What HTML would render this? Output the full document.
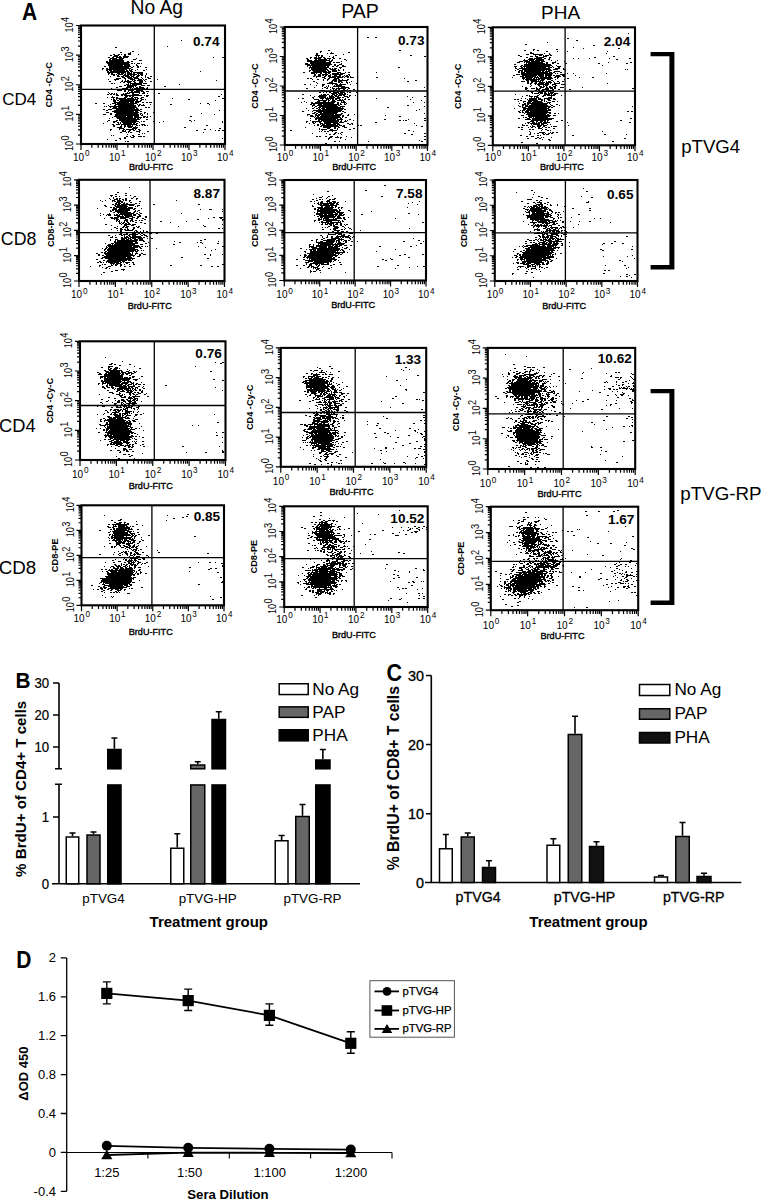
<!DOCTYPE html>
<html><head><meta charset="utf-8"><style>
html,body{margin:0;padding:0;background:#fff;width:761px;height:1200px;overflow:hidden}
svg{display:block}
text{font-family:"Liberation Sans", sans-serif;fill:#000}
</style></head><body>
<svg width="761" height="1200" viewBox="0 0 761 1200">
<path d="M181 40.5h1m-15 6h1m-53 1h2m15 4h2m-14 1h2m8 0h1m-3 1h3m-18 1h2m3 0h2m1 0h1m2 0h2m2 0h3m7 0h1m-29 1h2m2 0h5m5 0h2m-13 1h5m1 0h2m2 0h6m-21 1h2m2 0h2m2 0h6m1 0h5m85 0h1m8 0h2m-114 1h7m2 0h5m12 0h1m-28 1h2m1 0h11m10 0h3m-27 1h15m15 0h3m-36 1h2m1 0h15m3 0h2m2 0h2m-27 1h24m-23 1h22m2 0h2m1 0h1m2 0h3m1 0h1m-34 1h22m6 0h1m-29 1h15m1 0h6m6 0h2m-34 1h2m3 0h22m2 0h1m3 0h2m1 0h1m-32 1h20m2 0h2m4 0h2m6 0h2m-45 1h2m2 0h2m1 0h22m-29 1h1m3 0h21m2 0h1m1 0h2m4 0h1m8 0h1m-41 1h2m1 0h3m1 0h12m1 0h2m1 0h3m3 0h1m7 0h2m-38 1h2m1 0h19m1 0h3m67 0h1m-94 1h19m1 0h3m1 0h1m1 0h10m-35 1h2m1 0h2m4 0h3m1 0h3m1 0h1m1 0h5m1 0h2m2 0h6m3 0h1m-39 1h1m2 0h4m1 0h1m1 0h5m1 0h2m1 0h10m1 0h1m1 0h3m3 0h1m-34 1h2m2 0h2m4 0h6m1 0h2m1 0h2m2 0h3m1 0h2m2 0h1m-36 1h1m6 0h3m1 0h3m1 0h5m1 0h3m2 0h3m6 0h1m4 0h2m-30 1h3m2 0h5m1 0h5m3 0h1m3 0h1m1 0h2m-33 1h5m3 0h2m2 0h5m1 0h5m3 0h1m5 0h3m-43 1h1m5 0h5m6 0h1m4 0h5m3 0h4m1 0h1m1 0h2m10 0h1m-43 1h1m6 0h1m2 0h1m1 0h2m3 0h1m1 0h2m1 0h6m1 0h1m71 0h1m-108 1h2m10 0h2m1 0h8m1 0h2m4 0h4m2 0h1m4 0h2m-32 1h1m2 0h2m2 0h4m3 0h2m3 0h4m-32 1h2m1 0h1m13 0h1m1 0h12m1 0h4m-21 1h3m1 0h1m1 0h10m37 0h1m-56 1h2m1 0h10m4 0h4m2 0h3m-31 1h3m5 0h7m1 0h1m3 0h2m23 0h2m-50 1h2m8 0h6m1 0h1m2 0h2m1 0h5m3 0h1m-37 1h1m10 0h6m2 0h1m1 0h1m1 0h11m1 0h2m-36 1h2m1 0h2m5 0h3m4 0h4m3 0h4m7 0h2m-32 1h5m2 0h2m2 0h6m2 0h7m-19 1h2m2 0h1m2 0h2m1 0h6m1 0h3m2 0h3m-41 1h1m18 0h1m1 0h11m3 0h2m-36 1h1m1 0h2m1 0h1m1 0h1m6 0h1m1 0h5m2 0h2m5 0h1m2 0h3m2 0h1m10 0h2m-53 1h2m1 0h2m1 0h2m1 0h2m3 0h6m5 0h7m82 0h1m-106 1h3m2 0h2m1 0h18m2 0h1m1 0h3m-37 1h1m12 0h3m1 0h2m1 0h2m12 0h2m70 0h2m-113 1h1m3 0h4m1 0h2m6 0h3m4 0h2m1 0h4m3 0h3m-31 1h1m2 0h10m1 0h7m1 0h1m1 0h2m1 0h2m30 0h1m49 0h2m-113 1h1m1 0h2m1 0h1m2 0h19m3 0h3m1 0h1m42 0h2m-77 1h3m1 0h2m1 0h15m1 0h2m2 0h2m73 0h1m-103 1h3m3 0h15m1 0h6m-27 1h15m1 0h4m1 0h4m3 0h2m2 0h2m1 0h3m-57 1h2m6 0h2m7 0h4m1 0h20m17 0h1m45 0h1m6 0h2m-99 1h1m4 0h19m3 0h1m1 0h2m2 0h1m6 0h1m19 0h2m37 0h1m-102 1h1m5 0h2m2 0h18m2 0h2m1 0h4m-41 1h1m1 0h1m2 0h27m2 0h1m-29 1h1m2 0h4m1 0h19m8 0h2m1 0h2m-38 1h23m1 0h2m-35 1h2m3 0h4m4 0h23m1 0h2m12 0h1m-49 1h2m6 0h26m79 0h1m-108 1h22m1 0h3m2 0h2m-36 1h3m5 0h25m5 0h2m7 0h2m-45 1h2m4 0h22m2 0h2m2 0h1m2 0h1m53 0h1m-99 1h3m4 0h2m3 0h24m1 0h1m1 0h1m4 0h1m66 0h1m-100 1h24m2 0h2m-29 1h12m1 0h6m1 0h5m4 0h3m1 0h1m2 0h1m39 0h2m-80 1h1m3 0h17m1 0h8m1 0h2m1 0h2m-39 1h1m7 0h19m1 0h2m1 0h1m-22 1h21m6 0h2m-40 1h2m6 0h2m1 0h18m52 0h2m3 0h1m-88 1h1m5 0h4m4 0h18m2 0h1m1 0h2m8 0h2m8 0h1m27 0h1m30 0h1m-110 1h2m2 0h2m1 0h1m1 0h14m3 0h1m19 0h1m62 0h1m-120 1h1m14 0h1m1 0h1m2 0h9m1 0h2m1 0h2m-26 1h2m2 0h4m1 0h16m4 0h4m-32 1h2m6 0h1m2 0h2m1 0h4m1 0h1m3 0h2m1 0h1m2 0h1m1 0h2m1 0h1m58 0h2m-95 1h2m5 0h2m2 0h2m1 0h6m2 0h1m-19 1h5m2 0h1m3 0h4m1 0h5m46 0h2m-67 1h5m8 0h5m82 0h2m-111 1h2m7 0h1m3 0h2m1 0h8m1 0h1m2 0h2m64 0h2m4 0h1m-101 1h1m11 0h2m1 0h1m3 0h2m2 0h2m4 0h2m55 0h2m17 0h1m2 0h2m2 0h2m-102 1h4m2 0h2m6 0h4m7 0h2m-29 1h2m4 0h1m1 0h1m1 0h2m7 0h1m63 0h1m-62 1h1m1 0h1m-18 1h1m10 0h2m-29 1h1m1 0h1m18 0h2m-8 1h2m2 0h1m2 0h2m3 0h4m1 0h2m-21 1h2m5 0h3m-15 1h2m3 0h2m96 0h1m-116 1h1m12 0h1m-6 1h2m8 1h1m1 0h2" stroke="#000" stroke-width="1" fill="none" shape-rendering="crispEdges"/>
<rect x="81" y="25.5" width="144" height="118.5" fill="none" stroke="#000" stroke-width="2.1"/>
<path d="M154.3 25.5V144M81 89.4H225" stroke="#000" stroke-width="1.3"/>
<path d="M81 144v6M91.84 144v3.8M98.18 144v3.8M102.67 144v3.8M106.16 144v3.8M109.01 144v3.8M111.42 144v3.8M113.51 144v3.8M115.35 144v3.8M117 144v6M127.84 144v3.8M134.18 144v3.8M138.67 144v3.8M142.16 144v3.8M145.01 144v3.8M147.42 144v3.8M149.51 144v3.8M151.35 144v3.8M153 144v6M163.84 144v3.8M170.18 144v3.8M174.67 144v3.8M178.16 144v3.8M181.01 144v3.8M183.42 144v3.8M185.51 144v3.8M187.35 144v3.8M189 144v6M199.84 144v3.8M206.18 144v3.8M210.67 144v3.8M214.16 144v3.8M217.01 144v3.8M219.42 144v3.8M221.51 144v3.8M223.35 144v3.8M225 144v6M81 144h-5M81 135.08h-3M81 129.87h-3M81 126.16h-3M81 123.29h-3M81 120.95h-3M81 118.96h-3M81 117.25h-3M81 115.73h-3M81 114.38h-5M81 105.46h-3M81 100.24h-3M81 96.54h-3M81 93.67h-3M81 91.32h-3M81 89.34h-3M81 87.62h-3M81 86.11h-3M81 84.75h-5M81 75.83h-3M81 70.62h-3M81 66.91h-3M81 64.04h-3M81 61.7h-3M81 59.71h-3M81 58h-3M81 56.48h-3M81 55.12h-5M81 46.21h-3M81 40.99h-3M81 37.29h-3M81 34.42h-3M81 32.07h-3M81 30.09h-3M81 28.37h-3M81 26.86h-3M81 25.5h-5" stroke="#000" stroke-width="1.2"/>
<text x="219.5" y="46" font-size="13.6" text-anchor="end" font-weight="bold">0.74</text>
<text x="81.3" y="160.7" font-size="10" text-anchor="middle">10<tspan dx="0.8" dy="-4.9" font-size="8.2">0</tspan></text>
<text x="117.3" y="160.7" font-size="10" text-anchor="middle">10<tspan dx="0.8" dy="-4.9" font-size="8.2">1</tspan></text>
<text x="153.3" y="160.7" font-size="10" text-anchor="middle">10<tspan dx="0.8" dy="-4.9" font-size="8.2">2</tspan></text>
<text x="189.3" y="160.7" font-size="10" text-anchor="middle">10<tspan dx="0.8" dy="-4.9" font-size="8.2">3</tspan></text>
<text x="225.3" y="160.7" font-size="10" text-anchor="middle">10<tspan dx="0.8" dy="-4.9" font-size="8.2">4</tspan></text>
<text x="151" y="169.7" font-size="9.1" text-anchor="middle" stroke="#000" stroke-width="0.35">BrdU-FITC</text>
<text transform="translate(73.1 143.2) rotate(-90) scale(0.85 1)" font-size="10.8" text-anchor="middle">10<tspan dx="0.5" dy="-3.9">0</tspan></text>
<text transform="translate(73.1 113.58) rotate(-90) scale(0.85 1)" font-size="10.8" text-anchor="middle">10<tspan dx="0.5" dy="-3.9">1</tspan></text>
<text transform="translate(73.1 83.95) rotate(-90) scale(0.85 1)" font-size="10.8" text-anchor="middle">10<tspan dx="0.5" dy="-3.9">2</tspan></text>
<text transform="translate(73.1 54.33) rotate(-90) scale(0.85 1)" font-size="10.8" text-anchor="middle">10<tspan dx="0.5" dy="-3.9">3</tspan></text>
<text transform="translate(73.1 24.7) rotate(-90) scale(0.85 1)" font-size="10.8" text-anchor="middle">10<tspan dx="0.5" dy="-3.9">4</tspan></text>
<text transform="translate(52.3 84.75) rotate(-90)" font-size="9.2" font-weight="bold" text-anchor="middle">CD4 -Cy-C</text>
<path d="M367 37.5h2m6 0h2m-49 13h2m69 0h2m-81 1h2m-2 1h1m10 0h1m16 0h2m-34 1h2m9 0h1m2 0h4m-18 1h2m25 0h1m-29 1h5m1 0h2m12 0h2m73 0h2m-96 1h1m1 0h1m2 0h2m6 0h1m3 0h1m90 0h2m-116 1h2m2 0h3m1 0h4m1 0h2m7 0h2m-28 1h2m2 0h1m3 0h7m3 0h2m1 0h4m2 0h2m4 0h2m-34 1h2m6 0h2m1 0h9m2 0h1m2 0h1m11 0h2m-39 1h5m2 0h16m1 0h2m13 0h1m-40 1h19m3 0h3m9 0h1m-32 1h21m2 0h2m1 0h4m-35 1h3m2 0h21m10 0h1m-37 1h5m1 0h21m2 0h2m3 0h3m-35 1h23m4 0h2m1 0h2m3 0h2m-37 1h1m2 0h1m1 0h14m1 0h2m3 0h2m2 0h2m4 0h4m-37 1h20m10 0h3m56 0h2m-91 1h1m1 0h16m2 0h2m1 0h1m1 0h3m3 0h1m-30 1h17m2 0h6m2 0h1m4 0h1m-35 1h2m1 0h14m1 0h2m3 0h5m1 0h2m3 0h1m-35 1h1m3 0h14m1 0h3m1 0h5m-34 1h2m6 0h11m1 0h8m6 0h4m4 0h1m2 0h2m26 0h1m-66 1h4m1 0h1m3 0h2m3 0h2m1 0h2m2 0h7m1 0h5m-31 1h2m2 0h3m1 0h6m2 0h1m1 0h11m5 0h2m-36 1h2m2 0h3m1 0h2m1 0h2m1 0h3m3 0h3m2 0h2m3 0h1m1 0h2m1 0h1m-37 1h2m1 0h5m3 0h2m2 0h3m1 0h9m1 0h2m1 0h4m1 0h1m-35 1h1m5 0h3m4 0h7m1 0h6m1 0h1m2 0h2m1 0h4m22 0h2m-71 1h2m1 0h2m12 0h2m2 0h2m4 0h5m65 0h1m-93 1h1m4 0h2m4 0h1m3 0h2m4 0h4m1 0h2m2 0h1m4 0h2m-26 1h1m3 0h1m4 0h5m1 0h10m67 0h2m-104 1h2m16 0h2m1 0h3m1 0h4m4 0h1m4 0h1m55 0h2m-93 1h1m12 0h4m5 0h2m1 0h2m3 0h2m1 0h1m-33 1h1m9 0h10m3 0h1m6 0h1m8 0h2m-54 1h2m4 0h1m11 0h3m7 0h1m2 0h3m1 0h7m4 0h1m-35 1h1m5 0h2m4 0h1m5 0h1m1 0h6m-20 1h1m3 0h1m1 0h1m4 0h12m-31 1h1m9 0h2m1 0h1m2 0h1m1 0h1m5 0h1m2 0h8m75 0h1m-119 1h2m14 0h1m3 0h2m4 0h3m1 0h10m2 0h2m-20 1h1m2 0h1m1 0h2m1 0h2m3 0h2m2 0h1m5 0h2m-35 1h5m8 0h4m4 0h6m2 0h2m-27 1h11m2 0h6m5 0h1m-30 1h2m2 0h1m2 0h1m2 0h2m2 0h6m1 0h5m2 0h1m1 0h2m5 0h1m-26 1h6m1 0h5m1 0h2m-44 1h2m17 0h1m1 0h3m1 0h2m3 0h3m1 0h2m1 0h7m1 0h1m-38 1h1m8 0h8m2 0h1m1 0h2m1 0h3m1 0h4m1 0h2m4 0h2m4 0h1m-42 1h1m3 0h8m3 0h5m1 0h4m5 0h4m1 0h1m57 0h1m16 0h2m-114 1h2m5 0h7m1 0h1m1 0h6m2 0h4m1 0h2m3 0h2m63 0h1m-115 1h1m3 0h2m9 0h1m6 0h4m1 0h9m1 0h5m5 0h1m30 0h1m-63 1h5m3 0h1m3 0h3m1 0h1m1 0h2m1 0h2m2 0h2m1 0h1m1 0h2m2 0h2m60 0h1m-93 1h9m1 0h2m2 0h3m2 0h7m77 0h1m-118 1h1m12 0h3m3 0h3m2 0h1m2 0h5m5 0h1m1 0h2m-44 1h1m4 0h1m4 0h2m2 0h20m2 0h2m2 0h5m67 0h1m10 0h1m-114 1h23m3 0h2m1 0h1m3 0h1m1 0h1m-37 1h2m1 0h2m3 0h4m1 0h16m1 0h2m2 0h2m-34 1h3m2 0h20m1 0h2m67 0h2m-97 1h1m2 0h2m2 0h19m2 0h5m79 0h1m-111 1h1m3 0h3m1 0h19m1 0h1m44 0h2m-83 1h1m5 0h2m2 0h2m1 0h1m1 0h4m1 0h18m-26 1h3m1 0h21m1 0h2m73 0h1m-112 1h1m4 0h29m74 0h1m-115 1h2m8 0h1m3 0h25m1 0h2m-30 1h2m2 0h4m1 0h15m6 0h2m-34 1h3m1 0h2m2 0h17m4 0h2m81 0h1m-118 1h3m5 0h2m1 0h16m1 0h7m6 0h1m5 0h1m-48 1h1m2 0h3m2 0h5m1 0h20m1 0h2m3 0h2m36 0h1m-76 1h4m1 0h1m1 0h2m1 0h20m2 0h2m55 0h2m-87 1h1m1 0h25m1 0h1m2 0h2m-37 1h1m4 0h23m2 0h2m82 0h2m-111 1h2m1 0h18m1 0h6m6 0h2m33 0h2m22 0h1m-99 1h1m7 0h2m1 0h18m2 0h1m3 0h1m1 0h1m5 0h1m45 0h2m2 0h1m1 0h2m17 0h2m-120 1h2m4 0h10m1 0h16m1 0h2m2 0h3m-41 1h1m5 0h2m1 0h1m3 0h2m3 0h14m1 0h5m31 0h2m-68 1h1m3 0h2m5 0h3m1 0h7m2 0h6m8 0h2m2 0h2m61 0h1m-98 1h2m1 0h1m1 0h3m1 0h10m1 0h3m9 0h2m1 0h1m-39 1h1m2 0h2m2 0h17m1 0h3m1 0h2m12 0h2m1 0h2m54 0h1m-97 1h2m1 0h16m3 0h3m76 0h2m-118 1h1m17 0h8m3 0h2m2 0h2m4 0h3m-28 1h1m7 0h3m4 0h2m1 0h1m15 0h2m-36 1h1m1 0h6m3 0h3m4 0h1m11 0h2m-61 1h2m30 0h1m6 0h8m71 0h2m-91 1h1m1 0h1m2 0h2m1 0h2m3 0h1m80 0h1m-79 1h2m4 0h2m-31 1h1m13 0h1m7 0h2m2 0h1m1 0h1m63 0h2m18 0h2m-97 1h2m2 0h2m6 0h1m69 0h2m-97 2h2m1 0h2m4 0h2m3 0h3m4 0h1m8 0h1m77 0h2m-97 1h3m3 0h4m1 0h2m9 0h1m-24 1h2m10 0h1m-13 1h1m16 0h1m78 0h2m-7 1h1m-86 1h2m3 0h1m28 0h1m52 0h2m-98 2h2" stroke="#000" stroke-width="1" fill="none" shape-rendering="crispEdges"/>
<rect x="284.8" y="27" width="142.7" height="118" fill="none" stroke="#000" stroke-width="2.1"/>
<path d="M357.6 27V145M284.8 91H427.5" stroke="#000" stroke-width="1.3"/>
<path d="M284.8 145v6M295.54 145v3.8M301.82 145v3.8M306.28 145v3.8M309.74 145v3.8M312.56 145v3.8M314.95 145v3.8M317.02 145v3.8M318.84 145v3.8M320.48 145v6M331.21 145v3.8M337.5 145v3.8M341.95 145v3.8M345.41 145v3.8M348.24 145v3.8M350.62 145v3.8M352.69 145v3.8M354.52 145v3.8M356.15 145v6M366.89 145v3.8M373.17 145v3.8M377.63 145v3.8M381.09 145v3.8M383.91 145v3.8M386.3 145v3.8M388.37 145v3.8M390.19 145v3.8M391.82 145v6M402.56 145v3.8M408.85 145v3.8M413.3 145v3.8M416.76 145v3.8M419.59 145v3.8M421.97 145v3.8M424.04 145v3.8M425.87 145v3.8M427.5 145v6M284.8 145h-5M284.8 136.12h-3M284.8 130.92h-3M284.8 127.24h-3M284.8 124.38h-3M284.8 122.04h-3M284.8 120.07h-3M284.8 118.36h-3M284.8 116.85h-3M284.8 115.5h-5M284.8 106.62h-3M284.8 101.42h-3M284.8 97.74h-3M284.8 94.88h-3M284.8 92.54h-3M284.8 90.57h-3M284.8 88.86h-3M284.8 87.35h-3M284.8 86h-5M284.8 77.12h-3M284.8 71.92h-3M284.8 68.24h-3M284.8 65.38h-3M284.8 63.04h-3M284.8 61.07h-3M284.8 59.36h-3M284.8 57.85h-3M284.8 56.5h-5M284.8 47.62h-3M284.8 42.42h-3M284.8 38.74h-3M284.8 35.88h-3M284.8 33.54h-3M284.8 31.57h-3M284.8 29.86h-3M284.8 28.35h-3M284.8 27h-5" stroke="#000" stroke-width="1.2"/>
<text x="424.5" y="45" font-size="13.6" text-anchor="end" font-weight="bold">0.73</text>
<text x="285.1" y="160.9" font-size="10" text-anchor="middle">10<tspan dx="0.8" dy="-4.9" font-size="8.2">0</tspan></text>
<text x="320.78" y="160.9" font-size="10" text-anchor="middle">10<tspan dx="0.8" dy="-4.9" font-size="8.2">1</tspan></text>
<text x="356.45" y="160.9" font-size="10" text-anchor="middle">10<tspan dx="0.8" dy="-4.9" font-size="8.2">2</tspan></text>
<text x="392.12" y="160.9" font-size="10" text-anchor="middle">10<tspan dx="0.8" dy="-4.9" font-size="8.2">3</tspan></text>
<text x="427.8" y="160.9" font-size="10" text-anchor="middle">10<tspan dx="0.8" dy="-4.9" font-size="8.2">4</tspan></text>
<text x="354.15" y="170" font-size="9.1" text-anchor="middle" stroke="#000" stroke-width="0.35">BrdU-FITC</text>
<text transform="translate(276.9 144.2) rotate(-90) scale(0.85 1)" font-size="10.8" text-anchor="middle">10<tspan dx="0.5" dy="-3.9">0</tspan></text>
<text transform="translate(276.9 114.7) rotate(-90) scale(0.85 1)" font-size="10.8" text-anchor="middle">10<tspan dx="0.5" dy="-3.9">1</tspan></text>
<text transform="translate(276.9 85.2) rotate(-90) scale(0.85 1)" font-size="10.8" text-anchor="middle">10<tspan dx="0.5" dy="-3.9">2</tspan></text>
<text transform="translate(276.9 55.7) rotate(-90) scale(0.85 1)" font-size="10.8" text-anchor="middle">10<tspan dx="0.5" dy="-3.9">3</tspan></text>
<text transform="translate(276.9 26.2) rotate(-90) scale(0.85 1)" font-size="10.8" text-anchor="middle">10<tspan dx="0.5" dy="-3.9">4</tspan></text>
<text transform="translate(258.2 86) rotate(-90)" font-size="9.2" font-weight="bold" text-anchor="middle">CD4 -Cy-C</text>
<path d="M628 33.5h1m-62 5h2m7 2h2m-31 2h1m-23 2h2m66 1h2m-22 2h1m9 1h1m34 0h2m-87 1h2m21 0h2m-34 1h2m7 0h1m3 0h2m7 1h2m9 0h1m9 0h1m39 0h1m-78 1h2m-2 1h4m10 0h1m4 0h1m56 0h1m-81 1h3m4 0h10m6 0h2m-33 1h2m15 0h1m3 0h3m1 0h1m1 0h4m1 0h2m-32 1h2m8 0h3m2 0h3m5 0h4m66 0h2m-89 1h2m8 0h8m5 0h2m43 0h2m-67 1h4m1 0h8m2 0h2m3 0h1m23 0h1m4 0h1m10 0h1m19 0h1m19 0h2m-107 1h1m3 0h7m1 0h8m4 0h2m66 0h2m-95 1h5m1 0h5m1 0h9m7 0h1m5 0h1m-39 1h4m1 0h6m1 0h9m1 0h4m10 0h1m8 0h1m-48 1h3m4 0h1m1 0h17m3 0h2m4 0h4m52 0h1m21 0h2m-106 1h1m1 0h17m1 0h2m4 0h2m3 0h2m6 0h2m31 0h2m26 0h2m-114 1h2m8 0h27m-30 1h2m1 0h28m4 0h1m45 0h1m-89 1h3m3 0h2m1 0h27m2 0h1m4 0h4m-46 1h1m5 0h2m1 0h1m1 0h20m2 0h4m1 0h1m4 0h2m-45 1h2m2 0h31m5 0h5m3 0h1m-47 1h2m3 0h29m2 0h5m5 0h2m60 0h1m1 0h1m-113 1h1m3 0h4m1 0h21m1 0h1m1 0h4m13 0h1m-48 1h2m1 0h2m1 0h17m1 0h2m1 0h5m4 0h6m-42 1h2m1 0h4m1 0h22m1 0h3m1 0h2m5 0h2m-41 1h32m2 0h1m1 0h1m9 0h1m5 0h1m32 0h1m-91 1h4m1 0h23m1 0h7m8 0h5m-52 1h2m7 0h15m1 0h6m1 0h7m1 0h2m1 0h4m2 0h3m10 0h1m-56 1h4m1 0h11m1 0h1m1 0h5m1 0h2m1 0h3m4 0h6m2 0h2m-53 1h1m9 0h11m1 0h5m1 0h12m2 0h2m1 0h2m20 0h1m12 0h2m-72 1h3m1 0h6m1 0h2m1 0h1m1 0h15m4 0h1m9 0h2m-46 1h1m1 0h15m1 0h4m2 0h4m4 0h1m8 0h1m-39 1h3m1 0h7m1 0h1m1 0h4m7 0h2m-32 1h4m2 0h2m2 0h10m1 0h1m3 0h1m1 0h3m2 0h1m3 0h2m3 0h2m-37 1h2m2 0h2m2 0h2m2 0h6m1 0h6m2 0h1m4 0h1m-33 1h2m1 0h2m2 0h3m1 0h6m1 0h4m1 0h1m3 0h6m47 0h1m-78 1h1m4 0h1m1 0h12m3 0h4m5 0h4m-34 1h1m6 0h2m3 0h1m1 0h3m4 0h1m2 0h2m-35 1h1m7 0h1m8 0h3m1 0h2m1 0h1m2 0h2m2 0h3m-31 1h2m9 0h1m3 0h4m2 0h2m1 0h4m1 0h2m4 0h4m18 0h1m-58 1h3m3 0h4m1 0h2m1 0h2m4 0h4m1 0h3m1 0h2m76 0h2m-109 1h2m9 0h4m2 0h7m3 0h2m4 0h2m9 0h2m-44 1h2m6 0h2m1 0h2m1 0h3m2 0h8m-24 1h4m3 0h1m1 0h8m1 0h3m3 0h2m-25 1h2m5 0h5m1 0h2m2 0h1m1 0h4m-22 1h1m1 0h5m1 0h3m1 0h3m1 0h5m1 0h4m-43 1h1m23 0h1m4 0h6m1 0h1m1 0h3m-30 1h2m1 0h1m7 0h2m4 0h3m1 0h8m6 0h1m-40 1h1m6 0h4m1 0h4m4 0h2m7 0h1m-21 1h1m2 0h1m1 0h3m9 0h4m-31 1h1m3 0h1m3 0h8m1 0h3m3 0h8m1 0h2m-41 1h2m1 0h2m8 0h1m1 0h8m1 0h5m1 0h1m2 0h3m3 0h3m-36 1h2m6 0h10m3 0h2m1 0h1m3 0h3m-33 1h1m4 0h3m2 0h4m1 0h9m2 0h1m1 0h1m5 0h3m2 0h1m-35 1h1m3 0h4m1 0h11m4 0h4m-32 1h1m4 0h2m1 0h21m1 0h1m-28 1h4m1 0h2m2 0h16m3 0h1m5 0h2m-40 1h1m3 0h2m1 0h3m1 0h19m3 0h2m6 0h1m-41 1h2m1 0h1m2 0h26m2 0h2m77 0h1m-111 1h4m2 0h19m1 0h2m1 0h2m-39 1h1m8 0h26m-26 1h3m1 0h20m1 0h3m-31 1h1m1 0h3m1 0h25m-33 1h2m2 0h1m2 0h4m1 0h18m79 0h2m2 0h2m-114 1h2m1 0h2m1 0h26m-27 1h1m2 0h20m2 0h2m3 0h2m2 0h1m-33 1h20m1 0h2m-28 1h3m4 0h23m2 0h3m-28 1h22m-27 1h1m1 0h2m2 0h3m1 0h1m1 0h13m-30 1h2m7 0h3m2 0h22m76 0h2m-107 1h6m1 0h20m-21 1h15m1 0h2m12 0h2m57 0h2m-92 1h4m2 0h2m2 0h3m1 0h2m1 0h1m8 0h2m-31 1h3m2 0h3m1 0h1m1 0h4m1 0h7m17 0h1m61 0h2m-106 1h1m2 0h1m1 0h10m1 0h6m-25 1h1m8 0h1m1 0h7m1 0h3m3 0h1m2 0h1m-29 1h3m1 0h2m4 0h1m4 0h5m1 0h4m21 0h1m-39 1h1m1 0h3m2 0h4m2 0h2m6 0h1m1 0h4m-39 1h2m1 0h2m5 0h1m2 0h2m2 0h1m2 0h2m2 0h1m2 0h2m1 0h2m-12 1h4m11 0h2m-34 1h2m6 0h2m1 0h2m8 0h1m2 0h2m-6 1h1m5 0h2m1 0h1m-22 1h1m72 0h1m-73 1h1m8 0h6m5 0h1m1 0h2m2 0h2m-28 1h1m3 0h1m2 0h2m3 0h2m1 0h1m2 0h2m1 0h2m-24 1h2m12 0h2m1 0h3m55 0h2m20 0h1m-107 1h2m15 0h2m1 0h1m31 0h2m-48 1h2m3 0h3m3 1h2m2 0h1m1 0h1m7 0h1m-25 1h2m6 0h2m2 0h2m83 0h2m-84 1h1m5 0h2m-1 1h2m61 1h2m-93 1h2m13 1h2m11 1h1" stroke="#000" stroke-width="1" fill="none" shape-rendering="crispEdges"/>
<rect x="492.8" y="27.3" width="142.2" height="118" fill="none" stroke="#000" stroke-width="2.1"/>
<path d="M565.1 27.3V145.3M492.8 91.2H635" stroke="#000" stroke-width="1.3"/>
<path d="M492.8 145.3v6M503.5 145.3v3.8M509.76 145.3v3.8M514.2 145.3v3.8M517.65 145.3v3.8M520.46 145.3v3.8M522.84 145.3v3.8M524.9 145.3v3.8M526.72 145.3v3.8M528.35 145.3v6M539.05 145.3v3.8M545.31 145.3v3.8M549.75 145.3v3.8M553.2 145.3v3.8M556.01 145.3v3.8M558.39 145.3v3.8M560.45 145.3v3.8M562.27 145.3v3.8M563.9 145.3v6M574.6 145.3v3.8M580.86 145.3v3.8M585.3 145.3v3.8M588.75 145.3v3.8M591.56 145.3v3.8M593.94 145.3v3.8M596 145.3v3.8M597.82 145.3v3.8M599.45 145.3v6M610.15 145.3v3.8M616.41 145.3v3.8M620.85 145.3v3.8M624.3 145.3v3.8M627.11 145.3v3.8M629.49 145.3v3.8M631.55 145.3v3.8M633.37 145.3v3.8M635 145.3v6M492.8 145.3h-5M492.8 136.42h-3M492.8 131.22h-3M492.8 127.54h-3M492.8 124.68h-3M492.8 122.34h-3M492.8 120.37h-3M492.8 118.66h-3M492.8 117.15h-3M492.8 115.8h-5M492.8 106.92h-3M492.8 101.72h-3M492.8 98.04h-3M492.8 95.18h-3M492.8 92.84h-3M492.8 90.87h-3M492.8 89.16h-3M492.8 87.65h-3M492.8 86.3h-5M492.8 77.42h-3M492.8 72.22h-3M492.8 68.54h-3M492.8 65.68h-3M492.8 63.34h-3M492.8 61.37h-3M492.8 59.66h-3M492.8 58.15h-3M492.8 56.8h-5M492.8 47.92h-3M492.8 42.72h-3M492.8 39.04h-3M492.8 36.18h-3M492.8 33.84h-3M492.8 31.87h-3M492.8 30.16h-3M492.8 28.65h-3M492.8 27.3h-5" stroke="#000" stroke-width="1.2"/>
<text x="630.25" y="45.75" font-size="13.6" text-anchor="end" font-weight="bold">2.04</text>
<text x="493.1" y="160.9" font-size="10" text-anchor="middle">10<tspan dx="0.8" dy="-4.9" font-size="8.2">0</tspan></text>
<text x="528.65" y="160.9" font-size="10" text-anchor="middle">10<tspan dx="0.8" dy="-4.9" font-size="8.2">1</tspan></text>
<text x="564.2" y="160.9" font-size="10" text-anchor="middle">10<tspan dx="0.8" dy="-4.9" font-size="8.2">2</tspan></text>
<text x="599.75" y="160.9" font-size="10" text-anchor="middle">10<tspan dx="0.8" dy="-4.9" font-size="8.2">3</tspan></text>
<text x="635.3" y="160.9" font-size="10" text-anchor="middle">10<tspan dx="0.8" dy="-4.9" font-size="8.2">4</tspan></text>
<text x="561.9" y="169.5" font-size="9.1" text-anchor="middle" stroke="#000" stroke-width="0.35">BrdU-FITC</text>
<text transform="translate(484.9 144.5) rotate(-90) scale(0.85 1)" font-size="10.8" text-anchor="middle">10<tspan dx="0.5" dy="-3.9">0</tspan></text>
<text transform="translate(484.9 115) rotate(-90) scale(0.85 1)" font-size="10.8" text-anchor="middle">10<tspan dx="0.5" dy="-3.9">1</tspan></text>
<text transform="translate(484.9 85.5) rotate(-90) scale(0.85 1)" font-size="10.8" text-anchor="middle">10<tspan dx="0.5" dy="-3.9">2</tspan></text>
<text transform="translate(484.9 56) rotate(-90) scale(0.85 1)" font-size="10.8" text-anchor="middle">10<tspan dx="0.5" dy="-3.9">3</tspan></text>
<text transform="translate(484.9 26.5) rotate(-90) scale(0.85 1)" font-size="10.8" text-anchor="middle">10<tspan dx="0.5" dy="-3.9">4</tspan></text>
<text transform="translate(460.7 86.3) rotate(-90)" font-size="9.2" font-weight="bold" text-anchor="middle">CD4 -Cy-C</text>
<path d="M129 187.5h1m-13 5h2m6 1h2m-12 1h2m-7 1h3m12 0h2m3 0h1m-20 1h1m3 0h2m2 0h1m14 0h2m-23 1h1m19 0h1m-25 1h1m3 0h1m2 0h2m1 0h2m4 0h2m4 0h2m3 0h2m-28 1h1m3 0h4m1 0h1m2 0h2m1 0h2m9 0h1m-37 1h1m4 0h1m6 0h3m2 0h4m2 0h1m1 0h2m2 0h2m45 0h1m-75 1h1m9 0h1m1 0h2m1 0h6m6 0h1m9 0h2m-25 1h4m1 0h2m1 0h1m5 0h2m-17 1h2m1 0h3m2 0h2m1 0h2m7 0h2m2 0h1m-28 1h2m1 0h5m1 0h14m18 0h2m43 0h2m-96 1h2m8 0h2m1 0h10m2 0h5m3 0h3m-35 1h2m8 0h13m7 0h1m1 0h1m-28 1h2m1 0h2m1 0h11m1 0h5m-36 1h1m15 0h4m2 0h14m1 0h2m5 0h1m-30 1h5m1 0h12m3 0h2m65 0h1m8 0h3m10 0h1m-113 1h1m1 0h2m1 0h15m5 0h1m2 0h2m-30 1h2m3 0h13m6 0h2m1 0h1m84 0h1m-110 1h2m2 0h14m2 0h2m4 0h1m-40 1h1m8 0h1m8 0h1m1 0h14m2 0h2m2 0h2m39 0h1m-79 1h1m3 0h4m3 0h1m1 0h2m1 0h13m1 0h3m2 0h2m-40 1h1m5 0h1m1 0h3m3 0h6m2 0h1m1 0h8m1 0h3m3 0h2m-24 1h7m1 0h8m4 0h4m4 0h2m-37 1h3m1 0h5m1 0h9m3 0h3m2 0h2m6 0h2m66 0h2m4 0h4m-119 1h1m6 0h7m2 0h6m3 0h4m3 0h2m4 0h2m64 0h1m11 0h2m-108 1h1m1 0h3m6 0h3m3 0h2m11 0h2m51 0h2m23 0h2m-108 1h2m1 0h1m4 0h4m2 0h3m2 0h2m2 0h1m1 0h2m79 0h1m-107 1h1m1 0h2m4 0h1m1 0h2m2 0h1m1 0h2m26 0h2m24 0h1m-68 1h1m1 0h1m1 0h2m2 0h2m6 0h2m3 0h2m28 0h1m-52 1h2m1 0h2m1 0h2m1 0h2m14 0h2m-41 1h2m14 0h1m2 0h7m1 0h4m86 0h1m-112 1h1m12 0h3m4 0h3m69 0h1m-87 1h1m5 0h2m1 0h3m7 0h1m1 0h2m38 0h1m25 0h2m-92 1h2m6 0h2m1 0h3m5 0h2m2 0h2m-23 1h2m2 0h2m5 0h1m5 0h2m5 0h1m77 0h2m2 0h1m-112 1h1m8 0h3m1 0h2m1 0h2m3 0h2m-17 1h1m2 0h2m3 0h8m2 0h2m6 0h1m-24 1h2m12 0h1m1 0h2m2 0h1m2 0h1m2 0h2m-30 1h2m1 0h4m1 0h1m1 0h1m2 0h3m1 0h1m1 0h3m1 0h1m-22 1h2m4 0h2m4 0h4m2 0h2m1 0h2m6 0h3m4 0h2m-39 1h3m1 0h5m1 0h9m2 0h1m2 0h2m-37 1h2m5 0h1m5 0h2m1 0h1m3 0h2m2 0h4m5 0h2m1 0h3m-35 1h1m11 0h1m1 0h2m1 0h2m1 0h9m5 0h2m-38 1h3m2 0h2m4 0h2m1 0h5m1 0h12m1 0h2m5 0h1m-30 1h6m1 0h3m1 0h4m2 0h5m4 0h1m3 0h2m-43 1h1m4 0h3m3 0h4m1 0h3m1 0h2m2 0h4m1 0h4m61 0h2m-96 1h1m4 0h1m1 0h21m1 0h5m56 0h2m-88 1h2m1 0h20m6 0h2m29 0h1m43 0h1m-105 1h19m2 0h3m10 0h1m30 0h2m16 0h1m2 0h2m-97 1h1m5 0h3m1 0h23m7 0h2m55 0h1m14 0h2m-111 1h3m1 0h1m1 0h21m5 0h3m30 0h2m-68 1h32m10 0h1m-44 1h1m1 0h24m1 0h7m1 0h2m2 0h1m1 0h1m50 0h1m23 0h2m-118 1h2m1 0h29m1 0h2m64 0h1m-104 1h1m2 0h2m1 0h27m5 0h2m14 0h1m-53 1h2m1 0h31m77 0h1m-112 1h1m2 0h29m1 0h2m2 0h1m1 0h1m67 0h1m-107 1h2m1 0h26m1 0h3m-37 1h2m1 0h2m1 0h23m2 0h1m3 0h1m-41 1h2m6 0h27m1 0h1m2 0h3m3 0h2m-45 1h2m5 0h28m2 0h1m3 0h2m2 0h3m58 0h2m4 0h1m11 0h1m-125 1h2m2 0h2m2 0h29m4 0h2m69 0h1m-107 1h27m2 0h1m3 0h3m-38 1h24m1 0h5m49 0h2m-82 1h2m2 0h30m72 0h2m-113 1h2m10 0h23m1 0h1m-30 1h2m2 0h20m1 0h4m-33 1h2m5 0h15m1 0h3m-28 1h2m1 0h2m1 0h1m2 0h1m1 0h11m1 0h2m1 0h1m1 0h5m2 0h2m-24 1h5m1 0h5m5 0h2m5 0h1m-32 1h1m1 0h2m5 0h1m1 0h1m1 0h3m2 0h2m2 0h1m4 0h1m3 0h2m87 0h2m-125 1h2m10 0h2m2 0h2m3 0h2m48 0h2m28 0h2m-112 1h1m8 0h1m8 0h3m9 0h1m3 0h2m3 0h2m80 0h2m4 0h2m-117 1h1m3 0h2m-3 1h2m2 0h1m11 1h4m-10 1h3m5 0h1m-13 1h2m-10 1h2m-4 2h1" stroke="#000" stroke-width="1" fill="none" shape-rendering="crispEdges"/>
<rect x="79" y="179.8" width="145.5" height="101.2" fill="none" stroke="#000" stroke-width="2.1"/>
<path d="M150 179.8V281M79 232.7H224.5" stroke="#000" stroke-width="1.3"/>
<path d="M79 281v6M89.95 281v3.8M96.36 281v3.8M100.9 281v3.8M104.43 281v3.8M107.31 281v3.8M109.74 281v3.8M111.85 281v3.8M113.71 281v3.8M115.38 281v6M126.32 281v3.8M132.73 281v3.8M137.27 281v3.8M140.8 281v3.8M143.68 281v3.8M146.12 281v3.8M148.22 281v3.8M150.09 281v3.8M151.75 281v6M162.7 281v3.8M169.11 281v3.8M173.65 281v3.8M177.18 281v3.8M180.06 281v3.8M182.49 281v3.8M184.6 281v3.8M186.46 281v3.8M188.12 281v6M199.07 281v3.8M205.48 281v3.8M210.02 281v3.8M213.55 281v3.8M216.43 281v3.8M218.87 281v3.8M220.97 281v3.8M222.84 281v3.8M224.5 281v6M79 281h-5M79 273.38h-3M79 268.93h-3M79 265.77h-3M79 263.32h-3M79 261.31h-3M79 259.62h-3M79 258.15h-3M79 256.86h-3M79 255.7h-5M79 248.08h-3M79 243.63h-3M79 240.47h-3M79 238.02h-3M79 236.01h-3M79 234.32h-3M79 232.85h-3M79 231.56h-3M79 230.4h-5M79 222.78h-3M79 218.33h-3M79 215.17h-3M79 212.72h-3M79 210.71h-3M79 209.02h-3M79 207.55h-3M79 206.26h-3M79 205.1h-5M79 197.48h-3M79 193.03h-3M79 189.87h-3M79 187.42h-3M79 185.41h-3M79 183.72h-3M79 182.25h-3M79 180.96h-3M79 179.8h-5" stroke="#000" stroke-width="1.2"/>
<text x="220" y="197.5" font-size="13.6" text-anchor="end" font-weight="bold">8.87</text>
<text x="79.3" y="298.4" font-size="10" text-anchor="middle">10<tspan dx="0.8" dy="-4.9" font-size="8.2">0</tspan></text>
<text x="115.67" y="298.4" font-size="10" text-anchor="middle">10<tspan dx="0.8" dy="-4.9" font-size="8.2">1</tspan></text>
<text x="152.05" y="298.4" font-size="10" text-anchor="middle">10<tspan dx="0.8" dy="-4.9" font-size="8.2">2</tspan></text>
<text x="188.43" y="298.4" font-size="10" text-anchor="middle">10<tspan dx="0.8" dy="-4.9" font-size="8.2">3</tspan></text>
<text x="224.8" y="298.4" font-size="10" text-anchor="middle">10<tspan dx="0.8" dy="-4.9" font-size="8.2">4</tspan></text>
<text x="149.75" y="309" font-size="9.1" text-anchor="middle" stroke="#000" stroke-width="0.35">BrdU-FITC</text>
<text transform="translate(71.1 280.2) rotate(-90) scale(0.85 1)" font-size="10.8" text-anchor="middle">10<tspan dx="0.5" dy="-3.9">0</tspan></text>
<text transform="translate(71.1 254.9) rotate(-90) scale(0.85 1)" font-size="10.8" text-anchor="middle">10<tspan dx="0.5" dy="-3.9">1</tspan></text>
<text transform="translate(71.1 229.6) rotate(-90) scale(0.85 1)" font-size="10.8" text-anchor="middle">10<tspan dx="0.5" dy="-3.9">2</tspan></text>
<text transform="translate(71.1 204.3) rotate(-90) scale(0.85 1)" font-size="10.8" text-anchor="middle">10<tspan dx="0.5" dy="-3.9">3</tspan></text>
<text transform="translate(71.1 179) rotate(-90) scale(0.85 1)" font-size="10.8" text-anchor="middle">10<tspan dx="0.5" dy="-3.9">4</tspan></text>
<text transform="translate(53.5 230.4) rotate(-90)" font-size="9.2" font-weight="bold" text-anchor="middle">CD8-PF</text>
<path d="M384 185.5h2m-21 5h2m-40 1h2m-16 3h1m18 1h1m-11 1h1m5 0h2m51 0h2m-64 1h3m5 0h1m-12 1h1m9 0h1m7 0h2m-24 1h2m5 0h2m1 0h1m6 0h2m1 0h3m-19 1h2m9 0h3m-20 1h2m2 0h1m6 0h2m3 0h4m2 0h4m9 0h1m73 0h1m-102 1h1m1 0h3m4 0h1m1 0h3m1 0h3m1 0h2m73 0h1m-99 1h1m2 0h2m1 0h15m1 0h2m70 0h1m-91 1h4m1 0h6m1 0h4m2 0h3m78 0h1m-106 1h1m7 0h17m-25 1h2m7 0h2m2 0h5m1 0h2m2 0h2m-20 1h6m1 0h10m1 0h1m2 0h2m1 0h2m64 0h1m-94 1h2m2 0h15m5 0h1m2 0h1m-28 1h2m1 0h2m1 0h17m2 0h1m-23 1h21m1 0h2m7 0h2m-33 1h18m1 0h4m10 0h1m20 0h1m-58 1h1m2 0h1m2 0h16m1 0h7m-28 1h17m2 0h3m1 0h4m65 0h2m-94 1h7m1 0h3m1 0h10m1 0h3m1 0h2m16 0h2m55 0h1m-105 1h1m4 0h15m1 0h2m1 0h6m-27 1h2m1 0h16m1 0h3m-20 1h3m1 0h11m2 0h4m2 0h2m3 0h1m-31 1h2m1 0h1m1 0h6m4 0h1m1 0h7m1 0h2m50 0h1m-78 1h4m1 0h1m1 0h12m7 0h2m-32 1h2m2 0h2m3 0h17m2 0h1m-29 1h1m6 0h2m3 0h6m6 0h1m1 0h1m1 0h2m-25 1h1m1 0h8m1 0h11m81 0h2m-102 1h1m2 0h1m1 0h7m2 0h2m2 0h2m-21 1h2m2 0h3m1 0h3m1 0h1m1 0h3m2 0h2m2 0h1m1 0h2m-18 1h2m1 0h2m5 0h2m3 0h1m-18 1h2m3 0h5m4 0h2m-22 1h1m2 0h1m1 0h1m6 0h5m5 0h1m3 0h1m-16 1h5m7 0h1m3 0h2m3 0h1m54 0h1m-88 1h2m6 0h1m2 0h3m5 0h2m1 0h1m6 0h1m-18 1h6m20 0h1m-29 1h2m3 0h2m2 0h3m2 0h2m-19 1h1m2 0h1m5 0h2m1 0h5m3 0h1m-22 1h1m6 0h7m7 0h4m-25 1h8m2 0h4m1 0h2m-25 1h2m5 0h1m9 0h1m3 0h4m3 0h2m-28 1h1m4 0h1m3 0h2m3 0h13m1 0h1m2 0h2m-33 1h1m3 0h2m3 0h2m2 0h4m1 0h1m1 0h2m1 0h5m2 0h1m-30 1h2m6 0h9m1 0h1m7 0h2m62 0h1m-98 1h2m3 0h2m4 0h9m2 0h6m6 0h1m-40 1h2m3 0h1m6 0h12m1 0h4m1 0h1m2 0h3m1 0h2m68 0h2m-104 1h1m3 0h3m3 0h9m1 0h1m1 0h2m3 0h1m1 0h2m4 0h2m4 0h1m45 0h2m18 0h1m-108 1h18m2 0h1m1 0h3m4 0h2m-29 1h15m2 0h1m1 0h8m75 0h2m-113 1h2m2 0h1m4 0h1m1 0h24m-35 1h1m3 0h1m2 0h15m1 0h2m1 0h3m1 0h3m2 0h3m3 0h2m64 0h1m-108 1h5m2 0h11m1 0h5m1 0h6m39 0h2m29 0h2m-103 1h1m1 0h6m2 0h8m1 0h10m4 0h1m3 0h2m-48 1h2m10 0h28m4 0h3m-41 1h1m2 0h7m1 0h23m1 0h2m6 0h1m45 0h1m-86 1h2m1 0h3m1 0h22m1 0h1m1 0h2m-40 1h2m4 0h26m1 0h1m5 0h2m31 0h1m-72 1h1m4 0h35m2 0h1m-41 1h27m1 0h5m2 0h1m-39 1h2m3 0h27m2 0h1m1 0h2m62 0h2m16 0h2m-124 1h1m3 0h3m1 0h30m61 0h2m-97 1h2m1 0h26m2 0h2m-34 1h2m1 0h26m1 0h2m3 0h2m68 0h2m-103 1h1m1 0h26m55 0h1m-95 1h2m5 0h2m4 0h1m1 0h26m45 0h2m7 0h2m-88 1h27m2 0h2m2 0h1m46 0h2m-79 1h5m1 0h18m1 0h1m-29 1h4m4 0h16m1 0h1m8 0h2m-35 1h1m3 0h14m3 0h2m-23 1h1m2 0h3m3 0h3m1 0h1m1 0h8m4 0h2m5 0h2m-46 1h2m5 0h2m4 0h3m4 0h1m1 0h2m10 0h2m65 0h2m-91 1h2m1 0h3m3 0h2m4 0h1m53 0h2m38 0h1m5 0h2m-118 1h2m2 0h1m1 0h5m4 0h1m8 0h1m77 0h1m-110 1h1m12 0h1m1 0h1m1 0h3m8 0h2m65 0h1m-80 1h3m-9 1h1m5 0h1m2 0h2m-11 1h2m1 0h3m-6 1h1m9 0h1m24 0h1" stroke="#000" stroke-width="1" fill="none" shape-rendering="crispEdges"/>
<rect x="284.3" y="180" width="141.7" height="100.5" fill="none" stroke="#000" stroke-width="2.1"/>
<path d="M354.2 180V280.5M284.3 232.7H426" stroke="#000" stroke-width="1.3"/>
<path d="M284.3 280.5v6M294.96 280.5v3.8M301.2 280.5v3.8M305.63 280.5v3.8M309.06 280.5v3.8M311.87 280.5v3.8M314.24 280.5v3.8M316.29 280.5v3.8M318.1 280.5v3.8M319.73 280.5v6M330.39 280.5v3.8M336.63 280.5v3.8M341.05 280.5v3.8M344.49 280.5v3.8M347.29 280.5v3.8M349.66 280.5v3.8M351.72 280.5v3.8M353.53 280.5v3.8M355.15 280.5v6M365.81 280.5v3.8M372.05 280.5v3.8M376.48 280.5v3.8M379.91 280.5v3.8M382.72 280.5v3.8M385.09 280.5v3.8M387.14 280.5v3.8M388.95 280.5v3.8M390.57 280.5v6M401.24 280.5v3.8M407.48 280.5v3.8M411.9 280.5v3.8M415.34 280.5v3.8M418.14 280.5v3.8M420.51 280.5v3.8M422.57 280.5v3.8M424.38 280.5v3.8M426 280.5v6M284.3 280.5h-5M284.3 272.94h-3M284.3 268.51h-3M284.3 265.37h-3M284.3 262.94h-3M284.3 260.95h-3M284.3 259.27h-3M284.3 257.81h-3M284.3 256.52h-3M284.3 255.38h-5M284.3 247.81h-3M284.3 243.39h-3M284.3 240.25h-3M284.3 237.81h-3M284.3 235.82h-3M284.3 234.14h-3M284.3 232.68h-3M284.3 231.4h-3M284.3 230.25h-5M284.3 222.69h-3M284.3 218.26h-3M284.3 215.12h-3M284.3 212.69h-3M284.3 210.7h-3M284.3 209.02h-3M284.3 207.56h-3M284.3 206.27h-3M284.3 205.12h-5M284.3 197.56h-3M284.3 193.14h-3M284.3 190h-3M284.3 187.56h-3M284.3 185.57h-3M284.3 183.89h-3M284.3 182.43h-3M284.3 181.15h-3M284.3 180h-5" stroke="#000" stroke-width="1.2"/>
<text x="422.5" y="198" font-size="13.6" text-anchor="end" font-weight="bold">7.58</text>
<text x="284.6" y="298.4" font-size="10" text-anchor="middle">10<tspan dx="0.8" dy="-4.9" font-size="8.2">0</tspan></text>
<text x="320.03" y="298.4" font-size="10" text-anchor="middle">10<tspan dx="0.8" dy="-4.9" font-size="8.2">1</tspan></text>
<text x="355.45" y="298.4" font-size="10" text-anchor="middle">10<tspan dx="0.8" dy="-4.9" font-size="8.2">2</tspan></text>
<text x="390.88" y="298.4" font-size="10" text-anchor="middle">10<tspan dx="0.8" dy="-4.9" font-size="8.2">3</tspan></text>
<text x="426.3" y="298.4" font-size="10" text-anchor="middle">10<tspan dx="0.8" dy="-4.9" font-size="8.2">4</tspan></text>
<text x="353.15" y="308" font-size="9.1" text-anchor="middle" stroke="#000" stroke-width="0.35">BrdU-FITC</text>
<text transform="translate(276.4 279.7) rotate(-90) scale(0.85 1)" font-size="10.8" text-anchor="middle">10<tspan dx="0.5" dy="-3.9">0</tspan></text>
<text transform="translate(276.4 254.57) rotate(-90) scale(0.85 1)" font-size="10.8" text-anchor="middle">10<tspan dx="0.5" dy="-3.9">1</tspan></text>
<text transform="translate(276.4 229.45) rotate(-90) scale(0.85 1)" font-size="10.8" text-anchor="middle">10<tspan dx="0.5" dy="-3.9">2</tspan></text>
<text transform="translate(276.4 204.32) rotate(-90) scale(0.85 1)" font-size="10.8" text-anchor="middle">10<tspan dx="0.5" dy="-3.9">3</tspan></text>
<text transform="translate(276.4 179.2) rotate(-90) scale(0.85 1)" font-size="10.8" text-anchor="middle">10<tspan dx="0.5" dy="-3.9">4</tspan></text>
<text transform="translate(258 230.25) rotate(-90)" font-size="9.2" font-weight="bold" text-anchor="middle">CD8-PE</text>
<path d="M583 188.5h1m-53 2h2m53 1h2m-72 1h1m17 0h1m-2 2h1m4 2h2m41 0h1m-50 1h1m8 0h2m48 0h2m-47 1h2m-21 1h5m4 1h2m2 0h2m-21 1h2m16 0h1m48 0h1m-56 1h2m2 0h5m5 0h2m37 0h3m-62 1h2m6 0h1m4 0h2m2 0h2m-10 1h7m4 0h1m2 0h1m6 0h1m-25 1h4m1 0h2m1 0h2m7 0h2m5 0h1m-34 1h2m2 0h1m1 0h2m1 0h5m1 0h4m1 0h2m18 0h1m-38 1h1m1 0h1m1 0h4m1 0h4m1 0h7m-25 1h2m5 0h17m1 0h1m23 0h2m15 0h2m-66 1h4m1 0h12m2 0h4m1 0h2m-24 1h1m1 0h17m3 0h3m37 0h2m-66 1h1m2 0h2m1 0h15m1 0h1m3 0h2m10 0h1m-38 1h4m2 0h3m1 0h8m3 0h2m3 0h1m2 0h2m1 0h2m-31 1h1m2 0h17m2 0h1m3 0h1m9 0h1m-43 1h1m5 0h1m1 0h14m1 0h5m6 0h2m1 0h1m17 0h2m-54 1h23m1 0h2m6 0h1m-32 1h17m1 0h6m6 0h1m-31 1h17m1 0h3m2 0h3m5 0h1m1 0h2m9 0h1m-45 1h1m2 0h15m8 0h2m3 0h1m35 0h1m5 0h1m-71 1h19m4 0h1m-22 1h2m1 0h4m1 0h13m2 0h1m1 0h1m2 0h1m-38 1h1m8 0h1m4 0h10m1 0h2m2 0h5m5 0h2m6 0h1m8 0h1m9 0h2m-61 1h7m1 0h10m1 0h6m7 0h2m46 0h1m-78 1h2m7 0h2m1 0h5m3 0h2m1 0h2m-30 1h1m4 0h1m1 0h1m1 0h2m1 0h2m2 0h1m1 0h2m4 0h4m22 0h1m-48 1h2m1 0h14m1 0h3m6 0h2m-27 1h2m1 0h4m1 0h1m1 0h4m1 0h1m2 0h1m10 0h2m-31 1h1m4 0h1m6 0h2m3 0h8m2 0h2m1 0h2m8 0h1m-37 1h1m5 0h3m1 0h3m1 0h2m2 0h3m1 0h1m1 0h1m-28 1h6m6 0h2m1 0h2m2 0h3m2 0h1m-25 1h1m2 0h3m6 0h13m2 0h2m1 0h2m-36 1h1m10 0h1m1 0h1m1 0h3m1 0h2m1 0h3m1 0h4m1 0h1m4 0h1m-30 1h3m2 0h3m4 0h1m3 0h2m1 0h1m1 0h2m6 0h2m-34 1h9m1 0h4m2 0h9m2 0h2m1 0h2m-24 1h3m1 0h2m3 0h7m5 0h4m-29 1h2m2 0h2m3 0h6m3 0h3m2 0h1m-23 1h2m1 0h3m1 0h3m1 0h6m2 0h1m2 0h1m3 0h2m59 0h2m-93 1h2m3 0h1m1 0h7m1 0h3m2 0h2m-18 1h1m3 0h1m1 0h1m1 0h1m1 0h6m1 0h3m1 0h1m-34 1h2m6 0h2m1 0h1m1 0h2m1 0h4m1 0h3m1 0h2m1 0h1m1 0h7m-35 1h3m1 0h2m2 0h1m2 0h4m1 0h7m3 0h4m-34 1h2m11 0h1m4 0h3m2 0h14m52 0h2m-86 1h2m1 0h2m4 0h6m1 0h2m1 0h3m1 0h2m1 0h2m11 0h1m-45 1h2m8 0h2m1 0h2m2 0h5m1 0h4m1 0h6m2 0h2m40 0h2m6 0h2m9 0h2m-92 1h6m1 0h12m1 0h6m4 0h1m39 0h1m-80 1h1m2 0h14m2 0h3m2 0h10m4 0h2m-44 1h1m2 0h1m1 0h4m2 0h16m1 0h7m1 0h1m13 0h1m62 0h1m-110 1h1m4 0h24m1 0h7m-35 1h5m1 0h25m2 0h1m-45 1h2m10 0h28m46 0h2m29 0h2m-110 1h2m1 0h29m2 0h1m44 0h2m-91 1h1m6 0h2m3 0h25m1 0h2m-31 1h32m-37 1h2m4 0h29m3 0h1m4 0h2m-45 1h1m1 0h2m1 0h29m1 0h2m1 0h1m-42 1h3m2 0h2m1 0h27m1 0h1m1 0h1m79 0h1m-117 1h2m2 0h26m1 0h7m49 0h1m23 0h1m-116 1h1m2 0h2m2 0h35m-34 1h3m1 0h18m1 0h7m6 0h1m77 0h1m-118 1h2m1 0h5m1 0h20m3 0h2m-34 1h1m3 0h1m2 0h1m1 0h22m3 0h2m66 0h2m-99 1h20m3 0h1m1 0h2m1 0h2m70 0h1m-107 1h3m3 0h4m1 0h17m3 0h2m-36 1h1m3 0h2m1 0h5m1 0h5m3 0h6m2 0h2m2 0h3m-26 1h6m2 0h4m1 0h5m1 0h3m1 0h2m-21 1h4m1 0h1m2 0h1m1 0h1m1 0h1m65 0h1m18 0h2m-108 1h6m3 0h4m1 0h4m3 0h2m-24 1h1m2 0h1m4 0h1m1 0h2m6 0h1m3 0h1m1 0h2m3 0h2m80 0h1m-103 1h1m4 0h5m8 0h1m81 0h1m-110 1h2m9 0h1m2 0h1m4 0h1m2 0h1m64 1h2m2 0h2m-84 1h2m12 0h1m-10 1h2m-21 1h2m11 0h2m76 0h2m-93 1h1m113 0h2m6 0h2m-7 1h1m-10 1h1m5 0h2m-95 1h1m97 0h1" stroke="#000" stroke-width="1" fill="none" shape-rendering="crispEdges"/>
<rect x="494.8" y="180" width="142.7" height="101" fill="none" stroke="#000" stroke-width="2.1"/>
<path d="M565.4 180V281M494.8 232.9H637.5" stroke="#000" stroke-width="1.3"/>
<path d="M494.8 281v6M505.54 281v3.8M511.82 281v3.8M516.28 281v3.8M519.74 281v3.8M522.56 281v3.8M524.95 281v3.8M527.02 281v3.8M528.84 281v3.8M530.48 281v6M541.21 281v3.8M547.5 281v3.8M551.95 281v3.8M555.41 281v3.8M558.24 281v3.8M560.62 281v3.8M562.69 281v3.8M564.52 281v3.8M566.15 281v6M576.89 281v3.8M583.17 281v3.8M587.63 281v3.8M591.09 281v3.8M593.91 281v3.8M596.3 281v3.8M598.37 281v3.8M600.19 281v3.8M601.83 281v6M612.56 281v3.8M618.85 281v3.8M623.3 281v3.8M626.76 281v3.8M629.59 281v3.8M631.97 281v3.8M634.04 281v3.8M635.87 281v3.8M637.5 281v6M494.8 281h-5M494.8 273.4h-3M494.8 268.95h-3M494.8 265.8h-3M494.8 263.35h-3M494.8 261.35h-3M494.8 259.66h-3M494.8 258.2h-3M494.8 256.91h-3M494.8 255.75h-5M494.8 248.15h-3M494.8 243.7h-3M494.8 240.55h-3M494.8 238.1h-3M494.8 236.1h-3M494.8 234.41h-3M494.8 232.95h-3M494.8 231.66h-3M494.8 230.5h-5M494.8 222.9h-3M494.8 218.45h-3M494.8 215.3h-3M494.8 212.85h-3M494.8 210.85h-3M494.8 209.16h-3M494.8 207.7h-3M494.8 206.41h-3M494.8 205.25h-5M494.8 197.65h-3M494.8 193.2h-3M494.8 190.05h-3M494.8 187.6h-3M494.8 185.6h-3M494.8 183.91h-3M494.8 182.45h-3M494.8 181.16h-3M494.8 180h-5" stroke="#000" stroke-width="1.2"/>
<text x="633.5" y="198.75" font-size="13.6" text-anchor="end" font-weight="bold">0.65</text>
<text x="495.1" y="298.4" font-size="10" text-anchor="middle">10<tspan dx="0.8" dy="-4.9" font-size="8.2">0</tspan></text>
<text x="530.77" y="298.4" font-size="10" text-anchor="middle">10<tspan dx="0.8" dy="-4.9" font-size="8.2">1</tspan></text>
<text x="566.45" y="298.4" font-size="10" text-anchor="middle">10<tspan dx="0.8" dy="-4.9" font-size="8.2">2</tspan></text>
<text x="602.12" y="298.4" font-size="10" text-anchor="middle">10<tspan dx="0.8" dy="-4.9" font-size="8.2">3</tspan></text>
<text x="637.8" y="298.4" font-size="10" text-anchor="middle">10<tspan dx="0.8" dy="-4.9" font-size="8.2">4</tspan></text>
<text x="564.15" y="308.75" font-size="9.1" text-anchor="middle" stroke="#000" stroke-width="0.35">BrdU-FITC</text>
<text transform="translate(486.9 280.2) rotate(-90) scale(0.85 1)" font-size="10.8" text-anchor="middle">10<tspan dx="0.5" dy="-3.9">0</tspan></text>
<text transform="translate(486.9 254.95) rotate(-90) scale(0.85 1)" font-size="10.8" text-anchor="middle">10<tspan dx="0.5" dy="-3.9">1</tspan></text>
<text transform="translate(486.9 229.7) rotate(-90) scale(0.85 1)" font-size="10.8" text-anchor="middle">10<tspan dx="0.5" dy="-3.9">2</tspan></text>
<text transform="translate(486.9 204.45) rotate(-90) scale(0.85 1)" font-size="10.8" text-anchor="middle">10<tspan dx="0.5" dy="-3.9">3</tspan></text>
<text transform="translate(486.9 179.2) rotate(-90) scale(0.85 1)" font-size="10.8" text-anchor="middle">10<tspan dx="0.5" dy="-3.9">4</tspan></text>
<text transform="translate(467.3 230.5) rotate(-90)" font-size="9.2" font-weight="bold" text-anchor="middle">CD8-PE</text>
<path d="M105 357.5h1m16 4h1m92 1h1m6 0h2m-113 1h2m107 0h2m-113 1h3m2 0h2m13 0h2m-12 1h2m-13 1h5m21 0h1m60 0h1m-95 1h2m5 0h2m5 0h3m-10 1h1m1 0h2m2 0h4m1 0h1m19 0h2m-33 1h3m2 0h4m10 0h1m-24 1h2m3 0h13m7 0h1m-25 1h4m1 0h10m1 0h2m3 0h3m4 0h2m1 0h1m73 0h2m-115 1h2m7 0h14m1 0h5m2 0h4m2 0h2m-37 1h2m4 0h2m1 0h13m1 0h2m1 0h5m1 0h3m-36 1h4m2 0h16m1 0h3m2 0h2m3 0h1m-28 1h19m6 0h2m-31 1h23m9 0h3m6 0h2m-43 1h3m1 0h2m1 0h16m1 0h4m1 0h2m1 0h2m-34 1h1m3 0h27m8 0h1m-36 1h26m3 0h5m75 0h2m-114 1h2m1 0h17m1 0h7m6 0h2m85 0h2m-123 1h21m2 0h1m2 0h4m-29 1h2m1 0h16m1 0h7m1 0h2m1 0h1m7 0h1m-44 1h2m2 0h4m1 0h13m1 0h7m3 0h3m2 0h2m-40 1h1m3 0h1m4 0h1m1 0h14m2 0h2m1 0h4m1 0h1m1 0h2m1 0h3m2 0h2m-39 1h2m1 0h13m1 0h3m1 0h2m4 0h2m30 0h2m-65 1h2m2 0h2m3 0h2m2 0h12m1 0h7m3 0h2m3 0h1m-42 1h3m2 0h3m1 0h3m5 0h8m1 0h2m1 0h2m2 0h3m4 0h1m72 0h1m-112 1h2m6 0h2m1 0h1m1 0h14m1 0h2m1 0h1m1 0h1m5 0h2m-31 1h1m2 0h6m1 0h5m1 0h1m1 0h1m1 0h2m3 0h2m-34 1h2m8 0h3m2 0h2m2 0h6m1 0h1m1 0h2m2 0h2m1 0h1m79 0h1m-107 1h2m2 0h5m2 0h2m1 0h3m8 0h2m-34 1h4m6 0h1m6 0h6m2 0h2m1 0h2m2 0h2m-31 1h2m5 0h2m8 0h2m1 0h2m4 0h3m5 0h1m-48 1h1m16 0h4m2 0h1m1 0h1m4 0h2m2 0h2m1 0h2m6 0h2m-27 1h4m7 0h1m4 0h1m-16 1h2m2 0h2m3 0h1m2 0h8m7 0h2m-41 1h2m11 0h5m2 0h4m1 0h2m-21 1h2m12 0h5m1 0h4m-37 1h2m18 0h3m2 0h2m2 0h1m2 0h3m1 0h1m-30 1h1m6 0h1m2 0h2m1 0h4m2 0h4m1 0h3m1 0h2m-32 1h2m9 0h3m3 0h3m2 0h4m2 0h2m5 0h1m-42 1h2m10 0h1m4 0h3m1 0h2m2 0h1m3 0h2m1 0h4m-34 1h1m11 0h3m4 0h1m1 0h1m2 0h11m-23 1h2m5 0h2m1 0h2m2 0h2m2 0h3m-2 1h1m1 0h2m1 0h2m5 0h2m-50 1h1m4 0h3m11 0h2m2 0h1m2 0h4m1 0h2m1 0h2m5 0h2m-29 1h2m3 0h6m2 0h1m1 0h6m4 0h3m-16 1h1m1 0h3m3 0h1m1 0h2m3 0h1m-29 1h2m2 0h5m1 0h2m1 0h3m1 0h1m6 0h1m2 0h1m-33 1h2m3 0h1m2 0h3m1 0h4m1 0h1m2 0h3m-21 1h1m7 0h2m1 0h2m2 0h1m2 0h7m1 0h1m4 0h1m-32 1h2m3 0h7m6 0h5m3 0h1m3 0h1m-34 1h1m6 0h1m2 0h2m3 0h2m1 0h6m1 0h1m1 0h1m11 0h1m-47 1h1m5 0h1m6 0h2m1 0h5m1 0h2m1 0h1m1 0h2m1 0h1m7 0h3m2 0h2m72 0h1m-101 1h7m1 0h2m2 0h5m4 0h2m-30 1h3m5 0h6m1 0h1m2 0h2m7 0h1m-27 1h4m1 0h13m1 0h2m-26 1h2m4 0h7m1 0h6m2 0h5m3 0h1m-34 1h2m3 0h1m1 0h17m11 0h3m-38 1h1m3 0h22m2 0h2m2 0h3m-35 1h2m2 0h1m3 0h17m1 0h2m1 0h2m2 0h3m-30 1h2m1 0h22m86 0h2m-113 1h2m1 0h23m7 0h1m-41 1h2m4 0h22m1 0h4m-32 1h6m1 0h1m1 0h20m1 0h1m61 0h1m5 0h1m-95 1h1m2 0h24m10 0h1m-37 1h1m1 0h21m2 0h3m-37 1h1m3 0h1m5 0h24m1 0h1m3 0h2m2 0h1m-37 1h2m1 0h3m1 0h19m1 0h5m-32 1h2m1 0h2m1 0h22m12 0h1m-38 1h1m1 0h24m-34 1h2m5 0h29m82 0h1m5 0h2m-117 1h23m1 0h2m1 0h2m-31 1h1m1 0h2m1 0h20m7 0h1m-34 1h8m1 0h16m2 0h2m83 0h2m-113 1h2m1 0h26m1 0h2m2 0h1m-35 1h1m3 0h23m10 0h2m78 0h1m-113 1h3m1 0h16m2 0h1m1 0h1m-31 1h2m2 0h3m2 0h18m4 0h2m-37 1h1m10 0h3m2 0h3m1 0h5m1 0h3m-20 1h3m2 0h7m2 0h5m4 0h1m1 0h1m1 0h1m5 0h2m-33 1h11m1 0h7m5 0h1m86 0h1m-113 1h2m1 0h10m3 0h3m6 0h2m-30 1h2m1 0h5m1 0h6m5 0h1m1 0h2m1 0h2m8 0h2m-37 1h1m7 0h3m2 0h4m1 0h5m2 0h1m7 0h1m-30 1h1m6 0h2m4 0h2m2 0h3m1 0h2m9 0h2m37 0h2m35 0h1m-92 1h2m1 0h2m-18 1h1m7 0h3m-3 1h4m2 0h3m-22 1h2m5 0h3m3 0h2m1 0h2m94 0h1m-103 1h1m5 0h3m3 0h2m88 0h2m-105 1h2m65 0h1m18 0h2m15 0h2m-82 1h1m-20 1h3m2 0h2m1 1h2m-17 1h1m12 0h2m-13 2h2m14 0h1" stroke="#000" stroke-width="1" fill="none" shape-rendering="crispEdges"/>
<rect x="80" y="341.3" width="145.5" height="118.7" fill="none" stroke="#000" stroke-width="2.1"/>
<path d="M154.3 341.3V460M80 405.5H225.5" stroke="#000" stroke-width="1.3"/>
<path d="M80 460v6M90.95 460v3.8M97.36 460v3.8M101.9 460v3.8M105.43 460v3.8M108.31 460v3.8M110.74 460v3.8M112.85 460v3.8M114.71 460v3.8M116.38 460v6M127.32 460v3.8M133.73 460v3.8M138.27 460v3.8M141.8 460v3.8M144.68 460v3.8M147.12 460v3.8M149.22 460v3.8M151.09 460v3.8M152.75 460v6M163.7 460v3.8M170.11 460v3.8M174.65 460v3.8M178.18 460v3.8M181.06 460v3.8M183.49 460v3.8M185.6 460v3.8M187.46 460v3.8M189.12 460v6M200.07 460v3.8M206.48 460v3.8M211.02 460v3.8M214.55 460v3.8M217.43 460v3.8M219.87 460v3.8M221.97 460v3.8M223.84 460v3.8M225.5 460v6M80 460h-5M80 451.07h-3M80 445.84h-3M80 442.13h-3M80 439.26h-3M80 436.91h-3M80 434.92h-3M80 433.2h-3M80 431.68h-3M80 430.32h-5M80 421.39h-3M80 416.17h-3M80 412.46h-3M80 409.58h-3M80 407.23h-3M80 405.25h-3M80 403.53h-3M80 402.01h-3M80 400.65h-5M80 391.72h-3M80 386.49h-3M80 382.78h-3M80 379.91h-3M80 377.56h-3M80 375.57h-3M80 373.85h-3M80 372.33h-3M80 370.98h-5M80 362.04h-3M80 356.82h-3M80 353.11h-3M80 350.23h-3M80 347.88h-3M80 345.9h-3M80 344.18h-3M80 342.66h-3M80 341.3h-5" stroke="#000" stroke-width="1.2"/>
<text x="221.8" y="357.8" font-size="13.6" text-anchor="end" font-weight="bold">0.76</text>
<text x="80.3" y="477.9" font-size="10" text-anchor="middle">10<tspan dx="0.8" dy="-4.9" font-size="8.2">0</tspan></text>
<text x="116.67" y="477.9" font-size="10" text-anchor="middle">10<tspan dx="0.8" dy="-4.9" font-size="8.2">1</tspan></text>
<text x="153.05" y="477.9" font-size="10" text-anchor="middle">10<tspan dx="0.8" dy="-4.9" font-size="8.2">2</tspan></text>
<text x="189.43" y="477.9" font-size="10" text-anchor="middle">10<tspan dx="0.8" dy="-4.9" font-size="8.2">3</tspan></text>
<text x="225.8" y="477.9" font-size="10" text-anchor="middle">10<tspan dx="0.8" dy="-4.9" font-size="8.2">4</tspan></text>
<text x="150.75" y="488.7" font-size="9.1" text-anchor="middle" stroke="#000" stroke-width="0.35">BrdU-FITC</text>
<text transform="translate(72.1 459.2) rotate(-90) scale(0.85 1)" font-size="10.8" text-anchor="middle">10<tspan dx="0.5" dy="-3.9">0</tspan></text>
<text transform="translate(72.1 429.52) rotate(-90) scale(0.85 1)" font-size="10.8" text-anchor="middle">10<tspan dx="0.5" dy="-3.9">1</tspan></text>
<text transform="translate(72.1 399.85) rotate(-90) scale(0.85 1)" font-size="10.8" text-anchor="middle">10<tspan dx="0.5" dy="-3.9">2</tspan></text>
<text transform="translate(72.1 370.18) rotate(-90) scale(0.85 1)" font-size="10.8" text-anchor="middle">10<tspan dx="0.5" dy="-3.9">3</tspan></text>
<text transform="translate(72.1 340.5) rotate(-90) scale(0.85 1)" font-size="10.8" text-anchor="middle">10<tspan dx="0.5" dy="-3.9">4</tspan></text>
<text transform="translate(52.5 400.65) rotate(-90)" font-size="9.2" font-weight="bold" text-anchor="middle">CD4 -Cy-C</text>
<path d="M329 366.5h2m-14 1h1m87 0h2m-88 1h2m10 0h2m68 1h1m7 0h1m-100 1h2m2 0h4m3 0h2m80 0h1m-91 1h1m7 0h1m4 0h1m11 0h2m-21 1h6m5 0h1m-25 1h2m3 0h2m3 0h1m8 0h1m-15 1h1m1 0h7m2 0h2m1 0h2m2 0h4m-20 1h5m99 0h2m-116 1h2m3 0h7m1 0h5m7 0h2m56 0h1m-84 1h1m4 0h1m2 0h2m1 0h5m3 0h2m1 0h2m5 0h2m4 0h1m-34 1h2m1 0h4m1 0h10m5 0h1m2 0h2m-24 1h17m5 0h2m73 0h1m-102 1h20m1 0h2m2 0h2m64 0h2m-95 1h4m2 0h20m1 0h2m-30 1h2m1 0h23m1 0h1m3 0h1m8 0h1m-39 1h24m1 0h1m1 0h1m4 0h1m-31 1h2m1 0h16m2 0h5m6 0h2m-34 1h20m1 0h2m3 0h2m3 0h1m62 0h1m-95 1h24m1 0h4m11 0h2m-42 1h22m2 0h5m4 0h1m-34 1h1m3 0h2m1 0h16m2 0h3m1 0h1m7 0h1m-37 1h18m2 0h3m2 0h4m1 0h1m3 0h1m63 0h2m-100 1h19m1 0h2m1 0h1m3 0h3m2 0h2m65 0h1m-103 1h2m1 0h2m1 0h7m1 0h7m1 0h4m1 0h1m2 0h3m-30 1h2m2 0h5m2 0h2m1 0h2m1 0h3m4 0h1m1 0h5m1 0h3m81 0h2m-114 1h6m3 0h2m1 0h2m1 0h2m1 0h1m1 0h1m2 0h1m6 0h4m2 0h2m-44 1h2m3 0h1m3 0h2m4 0h2m1 0h3m2 0h8m5 0h2m-34 1h2m4 0h6m1 0h1m1 0h1m2 0h4m1 0h3m1 0h1m2 0h2m5 0h1m-40 1h1m7 0h1m1 0h6m3 0h7m1 0h2m3 0h1m3 0h2m50 0h2m-84 1h2m2 0h2m5 0h10m1 0h4m5 0h1m-32 1h1m2 0h1m2 0h1m2 0h3m4 0h5m1 0h1m1 0h3m52 0h2m-79 1h5m4 0h2m1 0h7m2 0h1m4 0h3m4 0h2m66 0h2m1 0h1m-121 1h2m11 0h2m8 0h1m1 0h1m1 0h1m2 0h1m4 0h1m4 0h3m80 0h2m-115 1h2m8 0h2m3 0h2m2 0h2m2 0h6m1 0h1m1 0h2m2 0h2m34 0h1m-66 1h6m1 0h4m1 0h4m1 0h3m-11 1h1m1 0h1m1 0h3m2 0h6m2 0h2m58 0h2m-86 1h5m1 0h4m1 0h2m3 0h2m4 0h2m-27 1h2m5 0h2m1 0h1m1 0h6m1 0h3m1 0h4m-25 1h1m8 0h1m1 0h3m4 0h4m-19 1h1m2 0h5m1 0h10m6 0h2m43 0h1m-82 1h1m7 0h1m5 0h1m1 0h2m1 0h5m1 0h1m2 0h2m-19 1h2m1 0h2m2 0h2m1 0h1m2 0h6m82 0h2m-103 1h2m3 0h2m1 0h2m1 0h1m4 0h3m5 0h2m-30 1h1m5 0h3m1 0h4m1 0h2m1 0h1m2 0h1m8 0h2m-41 1h2m1 0h2m5 0h1m2 0h1m2 0h5m5 0h6m1 0h1m-28 1h2m1 0h2m2 0h2m2 0h1m1 0h4m1 0h1m1 0h2m-20 1h4m7 0h12m-33 1h2m7 0h4m1 0h7m2 0h3m5 0h1m5 0h2m79 0h2m-116 1h2m4 0h1m4 0h13m3 0h1m46 0h1m-71 1h2m1 0h5m1 0h3m1 0h10m4 0h1m1 0h2m79 0h2m-111 1h7m1 0h9m1 0h2m1 0h3m4 0h2m42 0h2m-75 1h2m2 0h5m3 0h1m1 0h4m7 0h1m-26 1h7m3 0h5m1 0h2m2 0h2m9 0h1m75 0h2m2 0h1m-112 1h16m1 0h1m2 0h3m1 0h2m28 0h1m-56 1h3m2 0h2m2 0h7m5 0h2m-23 1h6m1 0h3m1 0h2m3 0h1m3 0h2m4 0h2m37 0h2m34 0h2m9 0h2m-126 1h3m1 0h2m2 0h5m1 0h15m1 0h3m4 0h1m29 0h1m-64 1h4m2 0h1m3 0h1m2 0h13m2 0h2m42 0h2m-72 1h2m1 0h21m2 0h2m4 0h2m-31 1h16m3 0h2m4 0h3m-29 1h7m1 0h15m1 0h1m1 0h1m44 0h2m28 0h2m-107 1h2m1 0h5m1 0h3m1 0h12m1 0h2m2 0h1m83 0h1m-116 1h2m7 0h26m57 0h1m18 0h2m-112 1h4m3 0h19m5 0h1m2 0h1m76 0h1m8 0h2m-120 1h25m1 0h6m6 0h2m38 0h2m31 0h1m-109 1h4m1 0h3m1 0h10m1 0h7m1 0h2m35 0h2m11 0h2m31 0h2m-116 1h2m3 0h3m1 0h17m1 0h3m85 0h2m-120 1h1m5 0h1m1 0h22m2 0h2m1 0h1m5 0h1m63 0h2m-103 1h2m1 0h24m1 0h1m1 0h2m2 0h2m47 0h1m32 0h2m-123 1h1m3 0h2m1 0h2m1 0h22m7 0h2m32 0h2m20 0h2m23 0h1m-117 1h3m3 0h22m4 0h3m83 0h1m-119 1h1m4 0h22m2 0h4m85 0h2m-124 1h4m5 0h2m1 0h21m89 0h2m-116 1h1m1 0h1m1 0h18m4 0h2m8 0h2m68 0h2m-115 1h1m1 0h1m1 0h1m1 0h21m2 0h2m1 0h1m6 0h2m51 0h2m-86 1h6m1 0h14m6 0h1m70 0h2m-100 1h1m2 0h1m1 0h3m2 0h13m1 0h1m5 0h1m82 0h2m-120 1h2m2 0h1m1 0h14m1 0h6m1 0h1m67 0h2m-91 1h1m1 0h18m3 0h3m1 0h1m79 0h2m2 0h1m-125 1h1m11 0h4m2 0h8m1 0h3m3 0h2m8 0h2m40 0h2m-75 1h2m4 0h13m43 0h1m10 0h2m6 0h1m20 0h2m2 0h3m-118 1h1m13 0h3m1 0h13m2 0h1m86 0h2m-114 1h1m2 0h1m6 0h3m2 0h4m50 0h2m-61 1h5m2 0h4m3 0h3m48 0h1m37 0h2m-107 1h3m4 0h2m6 0h2m16 0h1m71 0h2m-107 1h2m4 0h2m2 0h5m47 0h1m-69 1h1m10 0h5m2 0h2m6 0h2m77 0h1m-96 1h1m3 0h1m8 0h1m87 0h1m-112 1h1m6 0h2m2 0h5m8 0h2m68 0h1m13 0h2m-97 1h2m17 0h2m69 0h2m-102 1h1m3 0h1m4 0h2m88 0h1m7 0h1m-106 1h1m5 0h2m54 0h1m-62 1h2m4 0h2m13 0h2m-22 1h2m9 1h2m3 0h1m46 0h1m19 0h2m-96 1h2m16 0h2m9 0h2m1 0h1m29 0h2m11 0h2m8 0h1m10 0h1m9 0h1m-102 1h2m5 0h1m9 0h1m92 0h2m-95 1h1" stroke="#000" stroke-width="1" fill="none" shape-rendering="crispEdges"/>
<rect x="280.8" y="347.9" width="145.4" height="118.9" fill="none" stroke="#000" stroke-width="2.1"/>
<path d="M355.2 347.9V466.8M280.8 412.5H426.2" stroke="#000" stroke-width="1.3"/>
<path d="M280.8 466.8v6M291.74 466.8v3.8M298.14 466.8v3.8M302.68 466.8v3.8M306.21 466.8v3.8M309.09 466.8v3.8M311.52 466.8v3.8M313.63 466.8v3.8M315.49 466.8v3.8M317.15 466.8v6M328.09 466.8v3.8M334.49 466.8v3.8M339.03 466.8v3.8M342.56 466.8v3.8M345.44 466.8v3.8M347.87 466.8v3.8M349.98 466.8v3.8M351.84 466.8v3.8M353.5 466.8v6M364.44 466.8v3.8M370.84 466.8v3.8M375.38 466.8v3.8M378.91 466.8v3.8M381.79 466.8v3.8M384.22 466.8v3.8M386.33 466.8v3.8M388.19 466.8v3.8M389.85 466.8v6M400.79 466.8v3.8M407.19 466.8v3.8M411.73 466.8v3.8M415.26 466.8v3.8M418.14 466.8v3.8M420.57 466.8v3.8M422.68 466.8v3.8M424.54 466.8v3.8M426.2 466.8v6M280.8 466.8h-5M280.8 457.85h-3M280.8 452.62h-3M280.8 448.9h-3M280.8 446.02h-3M280.8 443.67h-3M280.8 441.68h-3M280.8 439.96h-3M280.8 438.44h-3M280.8 437.07h-5M280.8 428.13h-3M280.8 422.89h-3M280.8 419.18h-3M280.8 416.3h-3M280.8 413.94h-3M280.8 411.95h-3M280.8 410.23h-3M280.8 408.71h-3M280.8 407.35h-5M280.8 398.4h-3M280.8 393.17h-3M280.8 389.45h-3M280.8 386.57h-3M280.8 384.22h-3M280.8 382.23h-3M280.8 380.51h-3M280.8 378.99h-3M280.8 377.62h-5M280.8 368.68h-3M280.8 363.44h-3M280.8 359.73h-3M280.8 356.85h-3M280.8 354.49h-3M280.8 352.5h-3M280.8 350.78h-3M280.8 349.26h-3M280.8 347.9h-5" stroke="#000" stroke-width="1.2"/>
<text x="421.2" y="364.2" font-size="13.6" text-anchor="end" font-weight="bold">1.33</text>
<text x="281.1" y="484.9" font-size="10" text-anchor="middle">10<tspan dx="0.8" dy="-4.9" font-size="8.2">0</tspan></text>
<text x="317.45" y="484.9" font-size="10" text-anchor="middle">10<tspan dx="0.8" dy="-4.9" font-size="8.2">1</tspan></text>
<text x="353.8" y="484.9" font-size="10" text-anchor="middle">10<tspan dx="0.8" dy="-4.9" font-size="8.2">2</tspan></text>
<text x="390.15" y="484.9" font-size="10" text-anchor="middle">10<tspan dx="0.8" dy="-4.9" font-size="8.2">3</tspan></text>
<text x="426.5" y="484.9" font-size="10" text-anchor="middle">10<tspan dx="0.8" dy="-4.9" font-size="8.2">4</tspan></text>
<text x="351.5" y="495" font-size="9.1" text-anchor="middle" stroke="#000" stroke-width="0.35">BrdU-FITC</text>
<text transform="translate(272.9 466) rotate(-90) scale(0.85 1)" font-size="10.8" text-anchor="middle">10<tspan dx="0.5" dy="-3.9">0</tspan></text>
<text transform="translate(272.9 436.27) rotate(-90) scale(0.85 1)" font-size="10.8" text-anchor="middle">10<tspan dx="0.5" dy="-3.9">1</tspan></text>
<text transform="translate(272.9 406.55) rotate(-90) scale(0.85 1)" font-size="10.8" text-anchor="middle">10<tspan dx="0.5" dy="-3.9">2</tspan></text>
<text transform="translate(272.9 376.82) rotate(-90) scale(0.85 1)" font-size="10.8" text-anchor="middle">10<tspan dx="0.5" dy="-3.9">3</tspan></text>
<text transform="translate(272.9 347.1) rotate(-90) scale(0.85 1)" font-size="10.8" text-anchor="middle">10<tspan dx="0.5" dy="-3.9">4</tspan></text>
<text transform="translate(253.4 407.35) rotate(-90)" font-size="9.2" font-weight="bold" text-anchor="middle">CD4 -Cy-C</text>
<path d="M505 354.5h1m20 2h1m-14 8h2m9 2h2m1 1h4m1 0h3m8 0h2m-31 1h2m75 0h1m-68 1h2m4 0h2m5 0h1m31 0h2m-61 1h1m19 0h1m1 0h2m5 0h1m-24 1h2m7 0h3m1 0h2m-23 1h1m4 0h2m4 0h2m3 0h2m3 0h1m6 0h1m1 0h1m5 0h1m38 0h1m31 0h2m1 0h2m-112 1h2m6 0h4m2 0h2m5 0h1m4 0h4m15 0h2m27 0h1m23 0h1m24 0h1m-130 1h1m5 0h2m6 0h2m6 0h12m15 0h1m80 0h2m-120 1h2m3 0h7m3 0h5m5 0h3m1 0h2m66 0h1m-109 1h1m3 0h1m5 0h5m1 0h3m1 0h1m2 0h2m1 0h2m2 0h2m1 0h4m2 0h2m5 0h2m7 0h2m50 0h2m18 0h1m-117 1h8m2 0h2m1 0h6m2 0h2m1 0h1m3 0h1m72 0h4m1 0h2m9 0h1m-117 1h2m1 0h14m3 0h2m1 0h2m41 0h2m37 0h1m11 0h1m-126 1h1m4 0h3m2 0h12m1 0h1m1 0h2m8 0h5m3 0h1m67 0h2m13 0h2m-126 1h2m1 0h2m3 0h11m1 0h9m1 0h4m16 0h1m3 0h1m65 0h1m-122 1h3m1 0h1m3 0h16m2 0h2m3 0h3m1 0h1m1 0h1m1 0h2m57 0h1m9 0h1m8 0h2m-120 1h2m2 0h2m1 0h17m1 0h3m1 0h2m1 0h1m4 0h1m1 0h1m57 0h2m1 0h1m8 0h1m5 0h2m9 0h1m-128 1h2m1 0h30m3 0h4m4 0h1m14 0h1m62 0h1m3 0h2m-123 1h26m1 0h1m3 0h2m72 0h1m5 0h2m-116 1h2m1 0h23m1 0h4m1 0h4m74 0h2m2 0h1m10 0h1m-125 1h30m1 0h4m1 0h2m2 0h1m3 0h1m2 0h1m47 0h1m7 0h2m12 0h1m1 0h2m3 0h2m-128 1h31m1 0h3m2 0h2m1 0h1m2 0h1m68 0h1m1 0h1m1 0h2m2 0h1m-123 1h2m1 0h23m2 0h5m2 0h5m1 0h1m61 0h3m8 0h2m1 0h6m1 0h1m1 0h1m1 0h1m-125 1h28m1 0h1m2 0h5m58 0h1m4 0h2m2 0h2m1 0h2m8 0h1m3 0h4m-125 1h2m1 0h30m2 0h2m3 0h2m2 0h1m38 0h1m39 0h3m-129 1h2m1 0h2m1 0h30m1 0h4m4 0h4m24 0h1m32 0h1m4 0h1m14 0h2m-131 1h2m2 0h33m7 0h6m1 0h1m44 0h2m21 0h1m-118 1h2m5 0h23m3 0h3m1 0h1m3 0h1m1 0h1m4 0h2m2 0h2m64 0h2m-112 1h22m1 0h1m1 0h3m5 0h4m6 0h1m58 0h1m4 0h4m-118 1h2m6 0h3m1 0h12m1 0h7m1 0h2m1 0h2m3 0h2m6 0h2m50 0h2m7 0h1m4 0h2m5 0h1m-134 1h2m9 0h2m2 0h4m1 0h5m1 0h2m1 0h4m1 0h7m3 0h2m4 0h1m1 0h3m9 0h1m-54 1h1m3 0h1m1 0h1m3 0h3m2 0h2m1 0h4m2 0h5m1 0h3m1 0h3m5 0h1m3 0h2m63 0h2m-122 1h2m15 0h14m1 0h6m1 0h1m3 0h6m1 0h1m3 0h3m1 0h2m72 0h2m-117 1h2m2 0h6m1 0h5m1 0h3m1 0h3m2 0h3m1 0h2m4 0h4m33 0h2m43 0h1m-119 1h2m2 0h1m3 0h1m6 0h4m2 0h4m2 0h2m1 0h2m2 0h2m1 0h2m3 0h1m19 0h1m29 0h1m9 0h1m15 0h2m-115 1h2m1 0h1m3 0h4m5 0h3m2 0h2m1 0h1m8 0h4m5 0h1m20 0h2m46 0h2m-128 1h1m10 0h4m2 0h1m1 0h5m1 0h7m2 0h4m3 0h3m2 0h2m1 0h3m75 0h2m-108 1h4m4 0h4m4 0h2m1 0h1m1 0h2m13 0h1m10 0h1m42 0h2m14 0h1m-119 1h1m3 0h5m1 0h2m1 0h2m1 0h1m1 0h7m1 0h7m16 0h2m46 0h2m-89 1h1m1 0h1m1 0h8m1 0h2m2 0h4m7 0h2m53 0h1m3 0h1m-90 1h5m8 0h1m1 0h2m1 0h4m9 0h3m-39 1h2m5 0h2m1 0h5m2 0h4m1 0h2m1 0h2m5 0h1m4 0h2m-34 1h2m2 0h2m1 0h2m1 0h3m7 0h1m28 0h1m48 0h1m12 0h1m-118 1h1m3 0h2m1 0h2m4 0h2m3 0h9m2 0h3m54 0h2m-92 1h1m8 0h3m4 0h2m1 0h1m3 0h3m2 0h2m2 0h1m7 0h1m-37 1h2m1 0h2m4 0h2m1 0h5m1 0h3m1 0h2m2 0h2m11 0h2m-47 1h1m2 0h1m14 0h2m4 0h5m1 0h2m1 0h2m15 0h2m-43 1h1m9 0h3m1 0h3m-10 1h8m2 0h7m4 0h2m1 0h2m-30 1h2m13 0h2m4 0h2m12 0h2m-38 1h1m6 0h4m1 0h2m1 0h2m1 0h8m18 0h1m41 0h2m20 0h2m-122 1h1m15 0h3m1 0h2m1 0h3m1 0h1m1 0h2m5 0h1m86 0h2m-127 1h2m2 0h2m6 0h2m2 0h3m1 0h2m1 0h2m1 0h2m3 0h1m2 0h2m84 0h2m-116 1h1m10 0h2m13 0h1m2 0h2m89 0h1m-118 1h2m3 0h1m2 0h4m6 0h4m8 0h2m1 0h2m53 0h2m-90 1h2m3 0h4m1 0h2m2 0h1m2 0h3m13 0h1m2 0h2m-39 1h1m3 0h2m2 0h9m6 0h2m1 0h3m48 0h2m39 0h1m-113 1h5m3 0h1m1 0h3m2 0h2m1 0h3m-24 1h2m2 0h7m3 0h5m2 0h1m55 0h1m-80 1h16m3 0h2m95 0h2m-120 1h1m1 0h2m2 0h16m1 0h2m8 0h1m76 0h2m4 0h1m2 0h1m-131 1h3m3 0h1m4 0h18m1 0h2m3 0h2m73 0h1m-103 1h2m1 0h3m1 0h5m1 0h7m1 0h2m1 0h3m2 0h4m-27 1h17m2 0h6m17 0h1m47 0h1m-100 1h1m2 0h2m3 0h20m1 0h6m-34 1h4m3 0h24m1 0h1m41 0h1m-70 1h29m88 0h2m-131 1h2m10 0h2m1 0h24m4 0h1m-32 1h1m2 0h25m-34 1h2m5 0h1m1 0h23m2 0h5m-38 1h1m6 0h25m11 0h2m-47 1h1m3 0h3m2 0h25m3 0h2m-28 1h22m3 0h1m8 0h1m-35 1h21m1 0h4m1 0h4m-36 1h3m1 0h22m1 0h2m91 0h2m-121 1h2m2 0h1m1 0h24m80 0h2m-110 1h2m2 0h4m1 0h17m6 0h1m-29 1h1m2 0h13m1 0h2m1 0h3m-19 1h3m1 0h9m1 0h2m3 0h2m-28 1h2m2 0h2m1 0h1m1 0h2m1 0h4m4 0h2m1 0h1m1 0h3m-24 1h1m1 0h4m6 0h2m2 0h2m6 0h3m44 0h1m-80 1h2m2 0h1m1 0h3m4 0h2m8 0h3m53 0h2m7 0h2m-89 1h1m1 0h1m6 0h2m3 0h3m1 0h6m1 0h2m-29 1h1m7 0h1m1 0h2m1 0h1m1 0h2m1 0h1m1 0h3m2 0h2m2 0h5m-32 1h1m6 0h1m4 0h1m3 0h1m2 0h2m1 0h2m2 0h2m60 0h1m-70 1h2m2 0h2m67 0h2m-92 1h1m1 0h1m6 0h4m3 0h1m1 0h5m1 0h2m-24 1h2m3 0h2m4 0h1m1 0h2m1 0h1m9 0h1m1 0h2m-29 1h1m2 0h3m1 0h2m4 0h2m3 0h3m8 0h3m50 0h1m-86 1h2m12 0h1m5 0h3m-19 1h1m4 0h3m7 0h1m87 0h1m-102 1h1m7 0h1m6 0h3m-8 1h2m-1 1h2m2 0h2m-12 1h2m77 0h1m-89 1h2m8 0h2m6 0h2m1 0h2m-15 1h1m90 0h2m-98 1h2m3 0h1m1 0h1m-3 1h3m7 0h1m-28 2h2m20 1h2m5 0h2m5 0h2" stroke="#000" stroke-width="1" fill="none" shape-rendering="crispEdges"/>
<rect x="487.8" y="347.9" width="147.4" height="121.1" fill="none" stroke="#000" stroke-width="2.1"/>
<path d="M563.2 347.9V469M487.8 413.8H635.2" stroke="#000" stroke-width="1.3"/>
<path d="M487.8 469v6M498.89 469v3.8M505.38 469v3.8M509.99 469v3.8M513.56 469v3.8M516.47 469v3.8M518.94 469v3.8M521.08 469v3.8M522.96 469v3.8M524.65 469v6M535.74 469v3.8M542.23 469v3.8M546.84 469v3.8M550.41 469v3.8M553.32 469v3.8M555.79 469v3.8M557.93 469v3.8M559.81 469v3.8M561.5 469v6M572.59 469v3.8M579.08 469v3.8M583.69 469v3.8M587.26 469v3.8M590.17 469v3.8M592.64 469v3.8M594.78 469v3.8M596.66 469v3.8M598.35 469v6M609.44 469v3.8M615.93 469v3.8M620.54 469v3.8M624.11 469v3.8M627.02 469v3.8M629.49 469v3.8M631.63 469v3.8M633.51 469v3.8M635.2 469v6M487.8 469h-5M487.8 459.89h-3M487.8 454.56h-3M487.8 450.77h-3M487.8 447.84h-3M487.8 445.44h-3M487.8 443.41h-3M487.8 441.66h-3M487.8 440.11h-3M487.8 438.73h-5M487.8 429.61h-3M487.8 424.28h-3M487.8 420.5h-3M487.8 417.56h-3M487.8 415.17h-3M487.8 413.14h-3M487.8 411.38h-3M487.8 409.84h-3M487.8 408.45h-5M487.8 399.34h-3M487.8 394.01h-3M487.8 390.22h-3M487.8 387.29h-3M487.8 384.89h-3M487.8 382.86h-3M487.8 381.11h-3M487.8 379.56h-3M487.8 378.17h-5M487.8 369.06h-3M487.8 363.73h-3M487.8 359.95h-3M487.8 357.01h-3M487.8 354.62h-3M487.8 352.59h-3M487.8 350.83h-3M487.8 349.29h-3M487.8 347.9h-5" stroke="#000" stroke-width="1.2"/>
<text x="631.8" y="363.4" font-size="13.6" text-anchor="end" font-weight="bold">10.62</text>
<text x="488.1" y="487.4" font-size="10" text-anchor="middle">10<tspan dx="0.8" dy="-4.9" font-size="8.2">0</tspan></text>
<text x="524.95" y="487.4" font-size="10" text-anchor="middle">10<tspan dx="0.8" dy="-4.9" font-size="8.2">1</tspan></text>
<text x="561.8" y="487.4" font-size="10" text-anchor="middle">10<tspan dx="0.8" dy="-4.9" font-size="8.2">2</tspan></text>
<text x="598.65" y="487.4" font-size="10" text-anchor="middle">10<tspan dx="0.8" dy="-4.9" font-size="8.2">3</tspan></text>
<text x="635.5" y="487.4" font-size="10" text-anchor="middle">10<tspan dx="0.8" dy="-4.9" font-size="8.2">4</tspan></text>
<text x="559.5" y="497" font-size="9.1" text-anchor="middle" stroke="#000" stroke-width="0.35">BrdU-FITC</text>
<text transform="translate(479.9 468.2) rotate(-90) scale(0.85 1)" font-size="10.8" text-anchor="middle">10<tspan dx="0.5" dy="-3.9">0</tspan></text>
<text transform="translate(479.9 437.93) rotate(-90) scale(0.85 1)" font-size="10.8" text-anchor="middle">10<tspan dx="0.5" dy="-3.9">1</tspan></text>
<text transform="translate(479.9 407.65) rotate(-90) scale(0.85 1)" font-size="10.8" text-anchor="middle">10<tspan dx="0.5" dy="-3.9">2</tspan></text>
<text transform="translate(479.9 377.37) rotate(-90) scale(0.85 1)" font-size="10.8" text-anchor="middle">10<tspan dx="0.5" dy="-3.9">3</tspan></text>
<text transform="translate(479.9 347.1) rotate(-90) scale(0.85 1)" font-size="10.8" text-anchor="middle">10<tspan dx="0.5" dy="-3.9">4</tspan></text>
<text transform="translate(459.3 408.45) rotate(-90)" font-size="9.2" font-weight="bold" text-anchor="middle">CD4 -Cy-C</text>
<path d="M187 514.5h2m-85 1h1m62 0h1m18 1h2m-6 1h2m-11 1h2m-55 1h2m-11 1h2m5 0h3m45 0h1m-31 1h1m-23 1h2m3 0h3m2 0h2m-10 1h5m3 0h1m2 0h2m-21 1h2m2 0h17m7 0h2m-25 1h1m1 0h1m2 0h9m15 0h1m-36 1h2m4 0h4m1 0h7m1 0h2m2 0h1m1 0h2m-26 1h3m1 0h2m4 0h12m-17 1h2m1 0h14m1 0h1m-22 1h2m1 0h2m1 0h11m1 0h5m4 0h2m-40 1h2m13 0h15m-19 1h1m1 0h13m2 0h5m1 0h1m-26 1h2m3 0h15m1 0h2m6 0h2m-26 1h15m2 0h5m-26 1h2m1 0h1m1 0h16m1 0h2m1 0h1m3 0h2m-31 1h1m2 0h19m1 0h2m1 0h2m11 0h2m-39 1h2m1 0h10m2 0h1m4 0h2m1 0h2m58 0h2m-88 1h1m2 0h21m2 0h1m6 0h1m-33 1h1m1 0h2m1 0h17m1 0h1m1 0h1m-22 1h2m1 0h7m1 0h3m2 0h5m7 0h1m-33 1h1m2 0h9m1 0h1m1 0h5m2 0h5m6 0h2m-29 1h2m1 0h4m1 0h3m1 0h4m2 0h2m4 0h2m-25 1h9m3 0h1m1 0h1m1 0h3m4 0h1m-31 1h2m5 0h5m1 0h3m1 0h7m4 0h2m-23 1h4m6 0h4m4 0h1m-19 1h1m2 0h2m2 0h2m3 0h3m2 0h2m3 0h1m-35 1h1m6 0h2m1 0h2m4 0h1m3 0h4m1 0h2m1 0h3m1 0h2m8 0h1m-36 1h2m1 0h1m6 0h3m2 0h4m1 0h3m1 0h2m-12 1h1m3 0h2m5 0h2m-11 1h1m3 0h1m1 0h4m3 0h2m-10 1h2m1 0h2m1 0h1m18 0h1m-40 1h1m4 0h1m1 0h2m1 0h1m5 0h2m-22 1h1m6 0h2m1 0h3m3 0h2m3 0h3m4 0h2m14 0h2m-41 1h2m4 0h3m2 0h2m2 0h1m1 0h3m68 0h2m-110 1h2m12 0h1m4 0h1m3 0h1m3 0h2m2 0h1m2 0h3m1 0h4m-22 1h2m6 0h1m2 0h3m1 0h1m11 0h2m-19 1h1m3 0h1m2 0h4m8 0h1m-32 1h4m4 0h4m2 0h1m1 0h2m1 0h2m4 0h1m5 0h1m-25 1h1m5 0h8m4 0h3m-30 1h1m7 0h1m1 0h2m2 0h1m1 0h1m2 0h2m2 0h3m2 0h2m-33 1h2m11 0h2m1 0h5m1 0h3m-19 1h3m6 0h5m1 0h1m1 0h1m1 0h2m-34 1h1m7 0h2m9 0h2m2 0h2m1 0h4m3 0h3m5 0h2m50 0h1m10 0h2m4 0h1m-95 1h1m6 0h4m1 0h1m3 0h2m3 0h1m1 0h2m75 0h2m-109 1h2m5 0h1m1 0h2m1 0h2m2 0h6m1 0h1m3 0h1m-27 1h2m1 0h2m1 0h1m3 0h2m2 0h1m1 0h2m1 0h3m85 0h1m-119 1h1m6 0h3m2 0h5m2 0h3m1 0h1m1 0h1m4 0h2m12 0h1m73 0h1m-113 1h1m2 0h2m2 0h2m1 0h3m2 0h2m2 0h3m2 0h2m2 0h3m48 0h2m-78 1h6m1 0h4m1 0h8m1 0h1m75 0h2m3 0h2m-116 1h2m2 0h2m2 0h1m1 0h2m2 0h3m1 0h14m6 0h2m67 0h2m-102 1h27m3 0h2m-38 1h1m3 0h2m2 0h7m1 0h15m1 0h1m1 0h1m3 0h1m48 0h1m-83 1h2m2 0h23m2 0h1m3 0h2m75 0h2m-112 1h26m2 0h1m1 0h2m1 0h1m4 0h2m-40 1h28m2 0h2m-31 1h24m1 0h2m-30 1h26m-25 1h26m1 0h3m84 0h2m-122 1h34m-32 1h30m1 0h1m-33 1h31m7 0h1m-39 1h31m90 0h1m-123 1h2m1 0h28m1 0h3m86 0h2m-124 1h1m3 0h1m1 0h25m-28 1h3m4 0h19m1 0h3m66 0h2m-109 1h2m11 0h19m1 0h4m2 0h2m-34 1h2m3 0h2m3 0h16m2 0h4m-30 1h2m1 0h4m3 0h17m14 0h2m-43 1h3m1 0h2m2 0h15m6 0h1m1 0h2m-40 1h1m3 0h2m2 0h2m4 0h2m2 0h2m2 0h4m1 0h2m2 0h2m-23 1h2m5 0h2m5 0h4m3 0h1m-24 1h2m12 0h2m1 0h1m-15 1h1m5 0h2m1 0h2m1 0h2m1 0h1m7 1h3m-28 2h1m8 1h1m1 0h1m96 0h1m-106 1h1m6 0h1m107 0h2m-10 2h2" stroke="#000" stroke-width="1" fill="none" shape-rendering="crispEdges"/>
<rect x="81.5" y="505.3" width="142.5" height="100" fill="none" stroke="#000" stroke-width="2.1"/>
<path d="M151.9 505.3V605.3M81.5 557.6H224" stroke="#000" stroke-width="1.3"/>
<path d="M81.5 605.3v6M92.22 605.3v3.8M98.5 605.3v3.8M102.95 605.3v3.8M106.4 605.3v3.8M109.22 605.3v3.8M111.61 605.3v3.8M113.67 605.3v3.8M115.49 605.3v3.8M117.12 605.3v6M127.85 605.3v3.8M134.12 605.3v3.8M138.57 605.3v3.8M142.03 605.3v3.8M144.85 605.3v3.8M147.23 605.3v3.8M149.3 605.3v3.8M151.12 605.3v3.8M152.75 605.3v6M163.47 605.3v3.8M169.75 605.3v3.8M174.2 605.3v3.8M177.65 605.3v3.8M180.47 605.3v3.8M182.86 605.3v3.8M184.92 605.3v3.8M186.74 605.3v3.8M188.38 605.3v6M199.1 605.3v3.8M205.37 605.3v3.8M209.82 605.3v3.8M213.28 605.3v3.8M216.1 605.3v3.8M218.48 605.3v3.8M220.55 605.3v3.8M222.37 605.3v3.8M224 605.3v6M81.5 605.3h-5M81.5 597.77h-3M81.5 593.37h-3M81.5 590.25h-3M81.5 587.83h-3M81.5 585.85h-3M81.5 584.17h-3M81.5 582.72h-3M81.5 581.44h-3M81.5 580.3h-5M81.5 572.77h-3M81.5 568.37h-3M81.5 565.25h-3M81.5 562.83h-3M81.5 560.85h-3M81.5 559.17h-3M81.5 557.72h-3M81.5 556.44h-3M81.5 555.3h-5M81.5 547.77h-3M81.5 543.37h-3M81.5 540.25h-3M81.5 537.83h-3M81.5 535.85h-3M81.5 534.17h-3M81.5 532.72h-3M81.5 531.44h-3M81.5 530.3h-5M81.5 522.77h-3M81.5 518.37h-3M81.5 515.25h-3M81.5 512.83h-3M81.5 510.85h-3M81.5 509.17h-3M81.5 507.72h-3M81.5 506.44h-3M81.5 505.3h-5" stroke="#000" stroke-width="1.2"/>
<text x="220.2" y="521" font-size="13.6" text-anchor="end" font-weight="bold">0.85</text>
<text x="81.8" y="622.2" font-size="10" text-anchor="middle">10<tspan dx="0.8" dy="-4.9" font-size="8.2">0</tspan></text>
<text x="117.42" y="622.2" font-size="10" text-anchor="middle">10<tspan dx="0.8" dy="-4.9" font-size="8.2">1</tspan></text>
<text x="153.05" y="622.2" font-size="10" text-anchor="middle">10<tspan dx="0.8" dy="-4.9" font-size="8.2">2</tspan></text>
<text x="188.68" y="622.2" font-size="10" text-anchor="middle">10<tspan dx="0.8" dy="-4.9" font-size="8.2">3</tspan></text>
<text x="224.3" y="622.2" font-size="10" text-anchor="middle">10<tspan dx="0.8" dy="-4.9" font-size="8.2">4</tspan></text>
<text x="150.75" y="634.5" font-size="9.1" text-anchor="middle" stroke="#000" stroke-width="0.35">BrdU-FITC</text>
<text transform="translate(73.6 604.5) rotate(-90) scale(0.85 1)" font-size="10.8" text-anchor="middle">10<tspan dx="0.5" dy="-3.9">0</tspan></text>
<text transform="translate(73.6 579.5) rotate(-90) scale(0.85 1)" font-size="10.8" text-anchor="middle">10<tspan dx="0.5" dy="-3.9">1</tspan></text>
<text transform="translate(73.6 554.5) rotate(-90) scale(0.85 1)" font-size="10.8" text-anchor="middle">10<tspan dx="0.5" dy="-3.9">2</tspan></text>
<text transform="translate(73.6 529.5) rotate(-90) scale(0.85 1)" font-size="10.8" text-anchor="middle">10<tspan dx="0.5" dy="-3.9">3</tspan></text>
<text transform="translate(73.6 504.5) rotate(-90) scale(0.85 1)" font-size="10.8" text-anchor="middle">10<tspan dx="0.5" dy="-3.9">4</tspan></text>
<text transform="translate(57.7 555.3) rotate(-90)" font-size="9.2" font-weight="bold" text-anchor="middle">CD8-PE</text>
<path d="M399 510.5h1m-80 2h2m35 1h1m20 1h1m-59 1h2m-9 1h2m29 1h1m-16 1h1m-11 1h2m2 1h2m3 0h3m1 0h3m-14 1h2m2 0h3m5 0h1m2 0h2m-27 1h2m2 0h2m2 0h8m-8 1h1m1 0h2m1 0h4m3 0h2m29 0h1m-49 1h2m2 0h14m3 0h1m-19 1h2m1 0h10m1 0h1m-20 1h2m2 0h2m1 0h16m3 0h3m73 0h2m7 0h2m-124 1h2m12 0h5m1 0h11m5 0h2m53 0h1m8 0h1m6 0h1m9 0h2m6 0h1m-123 1h2m7 0h2m1 0h13m1 0h1m8 0h1m8 0h2m60 0h1m1 0h1m3 0h2m4 0h1m-109 1h1m1 0h12m1 0h2m1 0h2m3 0h1m1 0h2m3 0h1m64 0h2m7 0h2m6 0h1m-111 1h1m2 0h6m1 0h3m1 0h3m2 0h1m46 0h2m19 0h1m3 0h2m10 0h1m-108 1h1m2 0h18m25 0h2m54 0h4m-106 1h5m2 0h15m65 0h1m11 0h2m2 0h2m-109 1h1m3 0h1m1 0h16m1 0h1m1 0h2m2 0h3m52 0h2m-79 1h19m9 0h2m25 0h1m3 0h2m29 0h2m-99 1h2m6 0h17m1 0h8m2 0h1m6 0h1m43 0h4m-88 1h2m4 0h18m9 0h1m-35 1h2m2 0h22m6 0h2m-37 1h2m7 0h2m1 0h1m2 0h17m-23 1h12m1 0h1m2 0h7m4 0h1m25 0h2m-58 1h2m2 0h16m2 0h2m1 0h3m5 0h1m-27 1h1m1 0h2m1 0h3m1 0h3m2 0h3m2 0h5m1 0h2m1 0h2m-30 1h1m1 0h7m1 0h3m1 0h3m3 0h2m2 0h1m-37 1h2m8 0h1m1 0h2m1 0h1m2 0h2m4 0h2m9 0h2m-25 1h2m3 0h3m1 0h2m3 0h3m28 0h1m-54 1h1m1 0h2m7 0h3m2 0h6m4 0h2m4 0h1m-22 1h2m2 0h3m1 0h6m1 0h1m4 0h3m1 0h1m5 0h1m-38 1h1m5 0h13m1 0h1m3 0h3m-29 1h2m1 0h1m3 0h2m4 0h2m1 0h1m1 0h3m9 0h1m3 0h2m-28 1h3m2 0h4m1 0h1m1 0h7m1 0h3m-38 1h2m6 0h1m1 0h2m1 0h2m2 0h1m7 0h1m2 0h2m14 0h1m-32 1h2m1 0h2m2 0h1m3 0h2m4 0h2m1 0h2m2 0h2m25 0h1m-49 1h2m3 0h4m2 0h2m3 0h3m2 0h1m53 0h2m-68 1h2m3 0h4m8 0h2m9 0h1m42 0h2m-79 1h2m4 0h1m2 0h5m4 0h1m27 0h2m-47 1h2m1 0h5m1 0h2m1 0h3m2 0h2m-16 1h2m2 0h1m1 0h1m1 0h6m4 0h2m-18 1h3m2 0h2m1 0h3m6 0h2m-32 1h1m4 0h1m2 0h2m3 0h5m1 0h3m1 0h2m-34 1h1m16 0h2m3 0h1m3 0h9m-24 1h1m4 0h4m6 0h2m5 0h5m1 0h2m-25 1h2m1 0h1m2 0h6m3 0h4m3 0h1m-35 1h1m8 0h2m4 0h1m1 0h5m1 0h4m1 0h2m-18 1h18m1 0h2m1 0h2m2 0h2m-48 1h1m10 0h3m3 0h2m1 0h2m2 0h8m1 0h2m1 0h5m39 0h2m-72 1h2m5 0h3m1 0h8m4 0h2m1 0h4m-34 1h3m1 0h1m3 0h8m2 0h4m5 0h1m3 0h3m1 0h1m3 0h2m-51 1h2m6 0h4m2 0h4m1 0h6m1 0h5m2 0h1m3 0h4m2 0h2m-39 1h1m1 0h1m5 0h1m1 0h17m1 0h3m4 0h2m7 0h1m32 0h1m29 0h2m-105 1h1m1 0h17m1 0h13m5 0h2m71 0h1m-119 1h6m1 0h6m1 0h9m2 0h5m2 0h3m1 0h2m51 0h2m27 0h2m-113 1h1m2 0h22m61 0h1m10 0h1m-102 1h2m1 0h7m1 0h9m1 0h6m1 0h4m6 0h1m62 0h1m-108 1h1m4 0h2m1 0h2m1 0h24m2 0h3m-34 1h30m1 0h3m51 0h2m-97 1h1m5 0h1m3 0h3m1 0h25m2 0h4m54 0h2m-93 1h25m3 0h4m1 0h2m1 0h3m-38 1h2m1 0h27m1 0h2m58 0h2m16 0h2m-112 1h2m1 0h29m1 0h2m52 0h2m-92 1h3m2 0h29m-33 1h1m3 0h23m1 0h3m1 0h3m2 0h2m2 0h2m-47 1h1m4 0h2m2 0h1m1 0h24m3 0h1m2 0h1m4 0h1m43 0h1m21 0h2m7 0h1m1 0h1m-127 1h2m7 0h1m1 0h29m71 0h2m3 0h2m-117 1h1m4 0h6m1 0h26m-36 1h1m5 0h25m3 0h1m1 0h2m1 0h2m-30 1h2m1 0h17m1 0h5m74 0h2m-105 1h2m1 0h16m1 0h1m1 0h2m1 0h5m-34 1h1m2 0h3m1 0h1m1 0h19m3 0h2m60 0h2m-93 1h1m5 0h2m1 0h1m3 0h1m4 0h3m3 0h3m69 0h2m1 0h2m15 0h1m-118 1h2m10 0h17m8 0h1m56 0h1m17 0h1m-109 1h2m1 0h2m3 0h5m2 0h1m1 0h3m2 0h1m2 0h1m1 0h1m-28 1h2m1 0h2m3 0h8m2 0h1m3 0h2m-21 1h2m1 0h4m1 0h4m1 0h3m1 0h2m-15 1h6m3 0h1m1 0h4m2 0h2m71 0h1m11 0h2m2 0h1m-107 1h1m1 0h3m8 0h2m2 0h1m-33 1h2m11 0h1m3 0h1m100 0h1m3 1h2m-110 1h2m73 1h2m9 0h1m16 0h2m3 0h2m-26 1h2m-13 1h1m18 2h1" stroke="#000" stroke-width="1" fill="none" shape-rendering="crispEdges"/>
<rect x="284.2" y="506.3" width="143.5" height="100.7" fill="none" stroke="#000" stroke-width="2.1"/>
<path d="M354.2 506.3V607M284.2 558.6H427.7" stroke="#000" stroke-width="1.3"/>
<path d="M284.2 607v6M295 607v3.8M301.32 607v3.8M305.8 607v3.8M309.28 607v3.8M312.12 607v3.8M314.52 607v3.8M316.6 607v3.8M318.43 607v3.8M320.07 607v6M330.87 607v3.8M337.19 607v3.8M341.67 607v3.8M345.15 607v3.8M347.99 607v3.8M350.39 607v3.8M352.47 607v3.8M354.31 607v3.8M355.95 607v6M366.75 607v3.8M373.07 607v3.8M377.55 607v3.8M381.03 607v3.8M383.87 607v3.8M386.27 607v3.8M388.35 607v3.8M390.18 607v3.8M391.82 607v6M402.62 607v3.8M408.94 607v3.8M413.42 607v3.8M416.9 607v3.8M419.74 607v3.8M422.14 607v3.8M424.22 607v3.8M426.06 607v3.8M427.7 607v6M284.2 607h-5M284.2 599.42h-3M284.2 594.99h-3M284.2 591.84h-3M284.2 589.4h-3M284.2 587.41h-3M284.2 585.72h-3M284.2 584.26h-3M284.2 582.98h-3M284.2 581.83h-5M284.2 574.25h-3M284.2 569.81h-3M284.2 566.67h-3M284.2 564.23h-3M284.2 562.24h-3M284.2 560.55h-3M284.2 559.09h-3M284.2 557.8h-3M284.2 556.65h-5M284.2 549.07h-3M284.2 544.64h-3M284.2 541.49h-3M284.2 539.05h-3M284.2 537.06h-3M284.2 535.37h-3M284.2 533.91h-3M284.2 532.63h-3M284.2 531.48h-5M284.2 523.9h-3M284.2 519.46h-3M284.2 516.32h-3M284.2 513.88h-3M284.2 511.89h-3M284.2 510.2h-3M284.2 508.74h-3M284.2 507.45h-3M284.2 506.3h-5" stroke="#000" stroke-width="1.2"/>
<text x="424.4" y="522.6" font-size="13.6" text-anchor="end" font-weight="bold">10.52</text>
<text x="284.5" y="622.8" font-size="10" text-anchor="middle">10<tspan dx="0.8" dy="-4.9" font-size="8.2">0</tspan></text>
<text x="320.38" y="622.8" font-size="10" text-anchor="middle">10<tspan dx="0.8" dy="-4.9" font-size="8.2">1</tspan></text>
<text x="356.25" y="622.8" font-size="10" text-anchor="middle">10<tspan dx="0.8" dy="-4.9" font-size="8.2">2</tspan></text>
<text x="392.12" y="622.8" font-size="10" text-anchor="middle">10<tspan dx="0.8" dy="-4.9" font-size="8.2">3</tspan></text>
<text x="428" y="622.8" font-size="10" text-anchor="middle">10<tspan dx="0.8" dy="-4.9" font-size="8.2">4</tspan></text>
<text x="353.95" y="637.7" font-size="9.1" text-anchor="middle" stroke="#000" stroke-width="0.35">BrdU-FITC</text>
<text transform="translate(276.3 606.2) rotate(-90) scale(0.85 1)" font-size="10.8" text-anchor="middle">10<tspan dx="0.5" dy="-3.9">0</tspan></text>
<text transform="translate(276.3 581.03) rotate(-90) scale(0.85 1)" font-size="10.8" text-anchor="middle">10<tspan dx="0.5" dy="-3.9">1</tspan></text>
<text transform="translate(276.3 555.85) rotate(-90) scale(0.85 1)" font-size="10.8" text-anchor="middle">10<tspan dx="0.5" dy="-3.9">2</tspan></text>
<text transform="translate(276.3 530.68) rotate(-90) scale(0.85 1)" font-size="10.8" text-anchor="middle">10<tspan dx="0.5" dy="-3.9">3</tspan></text>
<text transform="translate(276.3 505.5) rotate(-90) scale(0.85 1)" font-size="10.8" text-anchor="middle">10<tspan dx="0.5" dy="-3.9">4</tspan></text>
<text transform="translate(257.2 556.65) rotate(-90)" font-size="9.2" font-weight="bold" text-anchor="middle">CD8-PE</text>
<path d="M617 510.5h2m-34 1h2m11 0h2m13 0h2m-90 1h2m59 3h2m-65 2h2m2 0h2m6 0h1m2 0h1m5 1h1m-22 1h3m19 0h2m-34 1h1m4 0h2m3 0h1m14 0h2m-19 1h3m10 0h5m-21 1h2m8 0h2m1 0h1m3 0h2m-20 1h2m9 0h1m1 0h2m-5 1h4m3 0h2m4 0h1m-20 1h2m4 0h1m1 0h3m2 0h3m14 0h1m-43 1h4m3 0h1m2 0h2m9 0h1m2 0h2m90 0h1m-109 1h3m3 0h10m1 0h2m11 0h1m-31 1h1m1 0h1m1 0h19m5 0h2m-28 1h2m2 0h2m1 0h8m1 0h4m2 0h3m33 0h1m1 0h1m-59 1h3m1 0h9m2 0h2m24 0h1m-43 1h2m1 0h11m2 0h3m8 0h1m19 0h2m2 0h2m35 0h1m-93 1h2m1 0h18m3 0h2m10 0h2m1 0h2m-38 1h1m1 0h18m2 0h2m3 0h1m-34 1h1m8 0h2m1 0h11m1 0h2m3 0h3m3 0h2m-42 1h2m3 0h1m4 0h2m2 0h3m2 0h3m1 0h5m1 0h1m14 0h1m20 0h2m-60 1h2m1 0h1m3 0h13m2 0h10m2 0h2m81 0h2m-111 1h8m1 0h3m1 0h4m2 0h1m2 0h4m38 0h2m-67 1h18m4 0h2m2 0h1m4 0h1m-35 1h2m2 0h19m6 0h3m-42 1h1m11 0h20m1 0h5m8 0h2m-39 1h2m2 0h2m1 0h12m1 0h4m3 0h2m3 0h3m3 0h2m32 0h1m-84 1h1m5 0h2m4 0h4m1 0h12m2 0h1m1 0h3m83 0h1m-105 1h13m3 0h1m1 0h2m1 0h1m53 0h2m11 0h2m-98 1h2m6 0h1m1 0h5m2 0h6m1 0h3m1 0h5m1 0h1m-39 1h1m8 0h2m2 0h10m1 0h2m1 0h2m5 0h6m2 0h3m69 0h2m-104 1h13m1 0h2m1 0h1m7 0h2m4 0h1m9 0h1m-38 1h3m1 0h6m1 0h1m1 0h1m1 0h4m1 0h1m3 0h2m3 0h2m-39 1h2m3 0h2m1 0h6m1 0h1m4 0h1m1 0h2m1 0h5m2 0h2m79 0h2m-112 1h1m4 0h1m1 0h3m3 0h11m7 0h4m77 0h2m-109 1h1m1 0h11m2 0h2m6 0h2m7 0h2m1 0h1m10 0h1m-48 1h1m2 0h3m1 0h3m2 0h2m3 0h2m1 0h1m1 0h5m8 0h1m59 0h1m-101 1h2m4 0h2m3 0h1m1 0h1m4 0h2m4 0h8m1 0h2m1 0h2m2 0h2m-37 1h4m1 0h1m2 0h3m1 0h3m3 0h3m2 0h3m1 0h2m1 0h2m6 0h1m-48 1h1m16 0h4m1 0h2m1 0h2m1 0h1m1 0h2m2 0h2m1 0h1m3 0h1m29 0h1m-59 1h2m7 0h4m1 0h6m2 0h1m6 0h1m2 0h2m39 0h2m-75 1h5m2 0h5m1 0h1m5 0h2m2 0h1m1 0h6m-17 1h3m1 0h3m1 0h4m-27 1h2m3 0h2m1 0h2m4 0h2m1 0h4m3 0h2m8 0h1m2 0h1m55 0h1m-99 1h2m2 0h2m5 0h1m6 0h1m1 0h1m1 0h1m1 0h7m1 0h1m4 0h4m56 0h1m-101 1h1m8 0h1m5 0h2m1 0h1m3 0h1m2 0h2m1 0h10m72 0h2m-121 1h2m18 0h1m2 0h1m1 0h2m3 0h3m3 0h3m1 0h2m10 0h2m69 0h2m-117 1h1m4 0h1m4 0h2m1 0h2m6 0h2m1 0h5m4 0h4m3 0h2m58 0h1m9 0h2m-111 1h3m4 0h2m1 0h2m2 0h2m1 0h8m1 0h5m2 0h2m1 0h4m56 0h1m19 0h1m-124 1h2m1 0h1m9 0h3m5 0h5m1 0h6m1 0h2m2 0h3m1 0h5m54 0h2m4 0h2m3 0h2m-104 1h2m4 0h2m5 0h1m1 0h6m1 0h6m2 0h5m4 0h2m54 0h2m15 0h1m-123 1h1m1 0h1m7 0h2m3 0h2m1 0h2m3 0h21m6 0h1m41 0h1m10 0h2m7 0h1m2 0h1m-117 1h2m5 0h6m1 0h2m2 0h1m1 0h1m2 0h14m1 0h5m55 0h1m-92 1h3m3 0h1m2 0h1m4 0h3m1 0h2m4 0h2m3 0h1m2 0h2m2 0h4m57 0h2m13 0h1m-122 1h2m1 0h2m6 0h2m3 0h3m2 0h2m1 0h6m3 0h4m4 0h3m37 0h1m27 0h1m-108 1h2m4 0h5m5 0h3m1 0h6m2 0h5m5 0h1m63 0h1m7 0h1m-128 1h2m14 0h2m9 0h4m1 0h4m1 0h15m2 0h2m1 0h2m1 0h2m2 0h1m51 0h2m13 0h1m9 0h2m-122 1h19m1 0h7m3 0h2m5 0h1m5 0h3m9 0h1m13 0h1m31 0h1m7 0h2m4 0h2m-133 1h2m8 0h2m7 0h3m1 0h4m1 0h19m2 0h4m47 0h2m12 0h2m3 0h2m1 0h1m-118 1h2m2 0h1m4 0h7m1 0h21m1 0h2m5 0h1m69 0h1m2 0h1m1 0h2m2 0h1m5 0h1m-137 1h1m11 0h2m2 0h7m1 0h16m1 0h2m1 0h2m1 0h2m1 0h2m63 0h1m10 0h7m-123 1h1m1 0h2m1 0h2m1 0h27m2 0h2m2 0h2m5 0h1m20 0h2m32 0h1m8 0h2m2 0h2m5 0h2m1 0h1m-127 1h3m2 0h30m1 0h2m3 0h2m26 0h2m36 0h1m7 0h2m-127 1h1m9 0h1m2 0h28m2 0h2m4 0h3m48 0h2m22 0h1m6 0h1m-126 1h3m3 0h4m1 0h29m6 0h2m44 0h2m6 0h2m7 0h1m5 0h1m4 0h2m-117 1h31m2 0h2m1 0h3m2 0h2m66 0h2m5 0h2m7 0h2m-138 1h1m3 0h2m1 0h1m2 0h33m2 0h2m1 0h1m1 0h1m72 0h1m1 0h3m5 0h1m-130 1h2m4 0h2m2 0h24m1 0h1m1 0h2m9 0h2m64 0h3m-117 1h2m2 0h3m1 0h25m2 0h6m3 0h2m61 0h2m2 0h2m3 0h4m1 0h1m2 0h1m-130 1h1m4 0h1m1 0h3m1 0h5m1 0h30m60 0h2m23 0h2m-133 1h2m4 0h3m1 0h25m1 0h5m3 0h1m11 0h2m45 0h1m24 0h1m-132 1h1m3 0h2m1 0h1m3 0h3m1 0h2m1 0h24m1 0h2m2 0h2m26 0h2m37 0h1m11 0h3m1 0h2m5 0h2m-132 1h7m2 0h23m1 0h2m5 0h1m33 0h2m28 0h1m8 0h2m4 0h2m3 0h2m-129 1h1m2 0h1m1 0h6m1 0h19m1 0h3m1 0h2m87 0h2m-122 1h1m1 0h1m1 0h2m1 0h14m1 0h6m1 0h2m11 0h2m65 0h1m-108 1h3m2 0h3m1 0h17m44 0h2m3 0h1m-79 1h2m1 0h1m1 0h1m2 0h4m1 0h10m2 0h3m4 0h3m70 0h1m-99 1h3m5 0h6m2 0h4m1 0h2m3 0h1m2 0h1m89 0h2m1 0h2m-123 1h1m3 0h2m2 0h1m1 0h6m1 0h2m2 0h2m2 0h2m-36 1h2m2 0h3m3 0h2m1 0h10m1 0h2m-22 1h1m2 0h2m2 0h2m2 0h4m1 0h2m110 0h2m-138 1h1m18 0h2m3 0h1m4 0h1m-11 1h1m4 0h1m-11 1h2m2 0h1m9 0h1m-27 1h2m28 0h1m85 1h1m-100 1h2m88 0h1m-93 1h2m-14 2h2m10 1h2m-8 1h2m61 1h1m11 0h2m-71 2h2" stroke="#000" stroke-width="1" fill="none" shape-rendering="crispEdges"/>
<rect x="490.8" y="506.7" width="147.4" height="103.5" fill="none" stroke="#000" stroke-width="2.1"/>
<path d="M563.1 506.7V610.2M490.8 561.3H638.2" stroke="#000" stroke-width="1.3"/>
<path d="M490.8 610.2v6M501.89 610.2v3.8M508.38 610.2v3.8M512.99 610.2v3.8M516.56 610.2v3.8M519.47 610.2v3.8M521.94 610.2v3.8M524.08 610.2v3.8M525.96 610.2v3.8M527.65 610.2v6M538.74 610.2v3.8M545.23 610.2v3.8M549.84 610.2v3.8M553.41 610.2v3.8M556.32 610.2v3.8M558.79 610.2v3.8M560.93 610.2v3.8M562.81 610.2v3.8M564.5 610.2v6M575.59 610.2v3.8M582.08 610.2v3.8M586.69 610.2v3.8M590.26 610.2v3.8M593.17 610.2v3.8M595.64 610.2v3.8M597.78 610.2v3.8M599.66 610.2v3.8M601.35 610.2v6M612.44 610.2v3.8M618.93 610.2v3.8M623.54 610.2v3.8M627.11 610.2v3.8M630.02 610.2v3.8M632.49 610.2v3.8M634.63 610.2v3.8M636.51 610.2v3.8M638.2 610.2v6M490.8 610.2h-5M490.8 602.41h-3M490.8 597.85h-3M490.8 594.62h-3M490.8 592.11h-3M490.8 590.07h-3M490.8 588.33h-3M490.8 586.83h-3M490.8 585.51h-3M490.8 584.33h-5M490.8 576.54h-3M490.8 571.98h-3M490.8 568.75h-3M490.8 566.24h-3M490.8 564.19h-3M490.8 562.46h-3M490.8 560.96h-3M490.8 559.63h-3M490.8 558.45h-5M490.8 550.66h-3M490.8 546.1h-3M490.8 542.87h-3M490.8 540.36h-3M490.8 538.32h-3M490.8 536.58h-3M490.8 535.08h-3M490.8 533.76h-3M490.8 532.58h-5M490.8 524.79h-3M490.8 520.23h-3M490.8 517h-3M490.8 514.49h-3M490.8 512.44h-3M490.8 510.71h-3M490.8 509.21h-3M490.8 507.88h-3M490.8 506.7h-5" stroke="#000" stroke-width="1.2"/>
<text x="634.4" y="523.5" font-size="13.6" text-anchor="end" font-weight="bold">1.67</text>
<text x="491.1" y="629.1" font-size="10" text-anchor="middle">10<tspan dx="0.8" dy="-4.9" font-size="8.2">0</tspan></text>
<text x="527.95" y="629.1" font-size="10" text-anchor="middle">10<tspan dx="0.8" dy="-4.9" font-size="8.2">1</tspan></text>
<text x="564.8" y="629.1" font-size="10" text-anchor="middle">10<tspan dx="0.8" dy="-4.9" font-size="8.2">2</tspan></text>
<text x="601.65" y="629.1" font-size="10" text-anchor="middle">10<tspan dx="0.8" dy="-4.9" font-size="8.2">3</tspan></text>
<text x="638.5" y="629.1" font-size="10" text-anchor="middle">10<tspan dx="0.8" dy="-4.9" font-size="8.2">4</tspan></text>
<text x="562.5" y="639.3" font-size="9.1" text-anchor="middle" stroke="#000" stroke-width="0.35">BrdU-FITC</text>
<text transform="translate(482.9 609.4) rotate(-90) scale(0.85 1)" font-size="10.8" text-anchor="middle">10<tspan dx="0.5" dy="-3.9">0</tspan></text>
<text transform="translate(482.9 583.53) rotate(-90) scale(0.85 1)" font-size="10.8" text-anchor="middle">10<tspan dx="0.5" dy="-3.9">1</tspan></text>
<text transform="translate(482.9 557.65) rotate(-90) scale(0.85 1)" font-size="10.8" text-anchor="middle">10<tspan dx="0.5" dy="-3.9">2</tspan></text>
<text transform="translate(482.9 531.78) rotate(-90) scale(0.85 1)" font-size="10.8" text-anchor="middle">10<tspan dx="0.5" dy="-3.9">3</tspan></text>
<text transform="translate(482.9 505.9) rotate(-90) scale(0.85 1)" font-size="10.8" text-anchor="middle">10<tspan dx="0.5" dy="-3.9">4</tspan></text>
<text transform="translate(464 558.45) rotate(-90)" font-size="9.2" font-weight="bold" text-anchor="middle">CD8-PE</text>
<text transform="translate(21.9 19.7) scale(1 1.1)" font-size="21" font-weight="bold">A</text>
<text x="156.8" y="13.7" font-size="19.3" text-anchor="middle">No Ag</text>
<text x="360" y="17.5" font-size="19.5" text-anchor="middle">PAP</text>
<text x="560.6" y="18.75" font-size="19" text-anchor="middle">PHA</text>
<text x="2.3" y="105.1" font-size="17" text-anchor="start">CD4</text>
<text x="0.8" y="245.3" font-size="17.8" text-anchor="start">CD8</text>
<text x="-1" y="432" font-size="18.3" text-anchor="start">CD4</text>
<text x="-1.3" y="574" font-size="18.8" text-anchor="start">CD8</text>
<path d="M650.6 52H674.4V269.4H650.6V264.9H669.4V56.2H650.6Z" fill="#000"/>
<path d="M650.6 389H674.4V605H650.6V600.5H669.4V393.2H650.6Z" fill="#000"/>
<text x="681.2" y="152.8" font-size="18.6" text-anchor="start">pTVG4</text>
<text x="680.2" y="499.9" font-size="18.8" text-anchor="start">pTVG-RP</text>
<text transform="translate(15.6 688.3) scale(1 1.06)" font-size="20.8" font-weight="bold">B</text>
<path d="M59 683V768.8M55 768.8H62M55 784.2H62M59 784.2V883.8M52 883.8H360M53 683H59M53 715H59M53 747H59M53 817H59" stroke="#000" stroke-width="1.6" fill="none"/>
<text transform="translate(49.1 687.8) scale(0.93 1)" font-size="14.2" text-anchor="end" stroke="#000" stroke-width="0.2">30</text>
<text transform="translate(49.1 719.8) scale(0.93 1)" font-size="14.2" text-anchor="end" stroke="#000" stroke-width="0.2">20</text>
<text transform="translate(49.1 751.8) scale(0.93 1)" font-size="14.2" text-anchor="end" stroke="#000" stroke-width="0.2">10</text>
<text transform="translate(49.1 821.8) scale(0.93 1)" font-size="14.2" text-anchor="end" stroke="#000" stroke-width="0.2">1</text>
<text transform="translate(49.1 888.6) scale(0.93 1)" font-size="14.2" text-anchor="end" stroke="#000" stroke-width="0.2">0</text>
<path d="M72.5 836.25V833M69.5 833H75.5" stroke="#000" stroke-width="1.6" fill="none"/>
<rect x="66.25" y="837" width="12.5" height="46.8" fill="#fff" stroke="#000" stroke-width="1.5"/>
<path d="M93.5 834.25V832M90.5 832H96.5" stroke="#000" stroke-width="1.6" fill="none"/>
<rect x="87" y="835" width="13" height="48.8" fill="#666" stroke="#000" stroke-width="1.5"/>
<path d="M177.25 847.5V833.75M174.25 833.75H180.25" stroke="#000" stroke-width="1.6" fill="none"/>
<rect x="170.75" y="848.25" width="13" height="35.55" fill="#fff" stroke="#000" stroke-width="1.5"/>
<path d="M281.62 840V835.5M278.62 835.5H284.62" stroke="#000" stroke-width="1.6" fill="none"/>
<rect x="275.25" y="840.75" width="12.75" height="43.05" fill="#fff" stroke="#000" stroke-width="1.5"/>
<path d="M302.5 815.75V804.5M299.5 804.5H305.5" stroke="#000" stroke-width="1.6" fill="none"/>
<rect x="295.75" y="816.5" width="13.5" height="67.3" fill="#666" stroke="#000" stroke-width="1.5"/>
<path d="M114.38 748.75V738M111.38 738H117.38" stroke="#000" stroke-width="1.6" fill="none"/>
<rect x="107.75" y="749.5" width="13.25" height="19.3" fill="#000" stroke="#000" stroke-width="1.5"/>
<rect x="107.75" y="784.95" width="13.25" height="98.85" fill="#000" stroke="#000" stroke-width="1.5"/>
<path d="M197.75 764.25V761.75M194.75 761.75H200.75" stroke="#000" stroke-width="1.6" fill="none"/>
<rect x="190.75" y="765" width="14" height="3.8" fill="#666" stroke="#000" stroke-width="1.5"/>
<rect x="190.75" y="784.95" width="14" height="98.85" fill="#666" stroke="#000" stroke-width="1.5"/>
<path d="M218.75 718.75V711.75M215.75 711.75H221.75" stroke="#000" stroke-width="1.6" fill="none"/>
<rect x="212" y="719.5" width="13.5" height="49.3" fill="#000" stroke="#000" stroke-width="1.5"/>
<rect x="212" y="784.95" width="13.5" height="98.85" fill="#000" stroke="#000" stroke-width="1.5"/>
<path d="M322.88 759.25V749.5M319.88 749.5H325.88" stroke="#000" stroke-width="1.6" fill="none"/>
<rect x="315.75" y="760" width="14.25" height="8.8" fill="#000" stroke="#000" stroke-width="1.5"/>
<rect x="315.75" y="784.95" width="14.25" height="98.85" fill="#000" stroke="#000" stroke-width="1.5"/>
<text x="103.5" y="903" font-size="13.4" text-anchor="middle">pTVG4</text>
<text x="207.7" y="903" font-size="13.4" text-anchor="middle">pTVG-HP</text>
<text x="312.5" y="903" font-size="13.4" text-anchor="middle">pTVG-RP</text>
<text x="208.8" y="926.9" font-size="15" text-anchor="middle" font-weight="bold">Treatment group</text>
<text transform="translate(25.8 788.8) rotate(-90)" font-size="15.1" font-weight="bold" text-anchor="middle">% BrdU+ of CD4+ T cells</text>
<rect x="279.2" y="683.75" width="29" height="10.8" fill="#fff" stroke="#000" stroke-width="1.5"/>
<text x="312.3" y="694.7" font-size="17.2" text-anchor="start">No Ag</text>
<rect x="279.2" y="706.85" width="29" height="10.5" fill="#666" stroke="#000" stroke-width="1.5"/>
<text x="312.3" y="717.5" font-size="17.2" text-anchor="start">PAP</text>
<rect x="279.2" y="729.75" width="29" height="11.1" fill="#000" stroke="#000" stroke-width="1.5"/>
<text x="312.3" y="741" font-size="17.2" text-anchor="start">PHA</text>
<text transform="translate(386.6 680.6) scale(1 1.08)" font-size="21.5" font-weight="bold">C</text>
<path d="M431.3 675.5V882.5M425 882.5H741.3M426 675.5H431.3M426 744.5H431.3M426 813.7H431.3" stroke="#000" stroke-width="1.6" fill="none"/>
<text transform="translate(424 680.9) scale(0.93 1)" font-size="15.5" text-anchor="end" stroke="#000" stroke-width="0.35">30</text>
<text transform="translate(424 749.9) scale(0.93 1)" font-size="15.5" text-anchor="end" stroke="#000" stroke-width="0.35">20</text>
<text transform="translate(424 819.1) scale(0.93 1)" font-size="15.5" text-anchor="end" stroke="#000" stroke-width="0.35">10</text>
<text transform="translate(424 887.9) scale(0.93 1)" font-size="15.5" text-anchor="end" stroke="#000" stroke-width="0.35">0</text>
<path d="M445.88 848V834.5M442.88 834.5H448.88" stroke="#000" stroke-width="1.6" fill="none"/>
<rect x="439.5" y="848.75" width="12.75" height="33.75" fill="#fff" stroke="#000" stroke-width="1.5"/>
<path d="M467.75 836.25V833M464.75 833H470.75" stroke="#000" stroke-width="1.6" fill="none"/>
<rect x="461.25" y="837" width="13" height="45.5" fill="#666" stroke="#000" stroke-width="1.5"/>
<path d="M489 866.75V860.75M486 860.75H492" stroke="#000" stroke-width="1.6" fill="none"/>
<rect x="482.5" y="867.5" width="13" height="15" fill="#111" stroke="#000" stroke-width="1.5"/>
<path d="M553.38 844.5V838.75M550.38 838.75H556.38" stroke="#000" stroke-width="1.6" fill="none"/>
<rect x="547" y="845.25" width="12.75" height="37.25" fill="#fff" stroke="#000" stroke-width="1.5"/>
<path d="M575 733.75V716.25M572 716.25H578" stroke="#000" stroke-width="1.6" fill="none"/>
<rect x="568.25" y="734.5" width="13.5" height="148" fill="#666" stroke="#000" stroke-width="1.5"/>
<path d="M596.5 845.75V841.75M593.5 841.75H599.5" stroke="#000" stroke-width="1.6" fill="none"/>
<rect x="589.5" y="846.5" width="14" height="36" fill="#111" stroke="#000" stroke-width="1.5"/>
<path d="M661 876.25V875.5M658 875.5H664" stroke="#000" stroke-width="1.6" fill="none"/>
<rect x="654.5" y="877" width="13" height="5.5" fill="#fff" stroke="#000" stroke-width="1.5"/>
<path d="M682.5 835.75V822.5M679.5 822.5H685.5" stroke="#000" stroke-width="1.6" fill="none"/>
<rect x="675.75" y="836.5" width="13.5" height="46" fill="#666" stroke="#000" stroke-width="1.5"/>
<path d="M704 875.75V873.25M701 873.25H707" stroke="#000" stroke-width="1.6" fill="none"/>
<rect x="697" y="876.5" width="14" height="6" fill="#111" stroke="#000" stroke-width="1.5"/>
<text x="478.1" y="901.6" font-size="14.2" text-anchor="middle" stroke="#000" stroke-width="0.3">pTVG4</text>
<text x="584.5" y="901.6" font-size="14.2" text-anchor="middle" stroke="#000" stroke-width="0.3">pTVG-HP</text>
<text x="693.7" y="901.6" font-size="14.2" text-anchor="middle" stroke="#000" stroke-width="0.3">pTVG-RP</text>
<text x="588.5" y="927" font-size="15" text-anchor="middle" font-weight="bold">Treatment group</text>
<text transform="translate(398.8 778.2) rotate(-90)" font-size="15.8" font-weight="bold" text-anchor="middle">% BrdU+ of CD8+ T cells</text>
<rect x="639.5" y="684.5" width="30.3" height="11" fill="#fff" stroke="#000" stroke-width="1.5"/>
<text x="674.4" y="695.45" font-size="17.2" text-anchor="start">No Ag</text>
<rect x="639.5" y="708.75" width="30.3" height="10.5" fill="#666" stroke="#000" stroke-width="1.5"/>
<text x="674.4" y="719.2" font-size="17.2" text-anchor="start">PAP</text>
<rect x="639.5" y="732.5" width="30.3" height="10.5" fill="#111" stroke="#000" stroke-width="1.5"/>
<text x="674.4" y="742.95" font-size="17.2" text-anchor="start">PHA</text>
<text transform="translate(16.2 967.6) scale(1 1.1)" font-size="21" font-weight="bold">D</text>
<path d="M66.7 957.9V1191.3M60.8 957.9H66.7M60.8 996.8H66.7M60.8 1035.7H66.7M60.8 1074.6H66.7M60.8 1113.5H66.7M60.8 1152.4H66.7M60.8 1191.3H66.7" stroke="#000" stroke-width="1.3" fill="none"/>
<path d="M66.7 1152.5H392M147.9 1152.5v6M229.3 1152.5v6M310.6 1152.5v6M392 1152.5v6" stroke="#000" stroke-width="1.1" fill="none"/>
<text x="56" y="962.4" font-size="13" text-anchor="end">2</text>
<text x="56" y="1001.3" font-size="13" text-anchor="end">1.6</text>
<text x="56" y="1040.2" font-size="13" text-anchor="end">1.2</text>
<text x="56" y="1079.1" font-size="13" text-anchor="end">0.8</text>
<text x="56" y="1118" font-size="13" text-anchor="end">0.4</text>
<text x="56" y="1156.9" font-size="13" text-anchor="end">0</text>
<text x="56" y="1195.8" font-size="13" text-anchor="end">-0.4</text>
<text x="106.8" y="1176.6" font-size="13" text-anchor="middle">1:25</text>
<text x="189.6" y="1176.6" font-size="13" text-anchor="middle">1:50</text>
<text x="269.8" y="1176.6" font-size="13" text-anchor="middle">1:100</text>
<text x="351" y="1176.6" font-size="13" text-anchor="middle">1:200</text>
<text x="228" y="1199.4" font-size="13.2" text-anchor="middle" font-weight="bold">Sera Dilution</text>
<text transform="translate(28 1073.6) rotate(-90)" font-size="13" font-weight="bold" text-anchor="middle">&#916;OD 450</text>
<polyline points="106.8,993.4 188.2,1000.6 269.4,1015.4 350.8,1043.3" fill="none" stroke="#000" stroke-width="1.8"/>
<polyline points="106.8,1145.8 188.2,1147.8 269.4,1148.8 350.8,1149.6" fill="none" stroke="#000" stroke-width="1.8"/>
<polyline points="106.8,1155 188.2,1152.6 269.4,1152.8 350.8,1153" fill="none" stroke="#000" stroke-width="1.8"/>
<path d="M106.8 981.9V1003.9M102.8 981.9h8M102.8 1003.9h8" stroke="#000" stroke-width="1.4"/>
<rect x="101.2" y="987.8" width="11.2" height="11.2" fill="#000"/>
<path d="M188.2 989.1V1010.5M184.2 989.1h8M184.2 1010.5h8" stroke="#000" stroke-width="1.4"/>
<rect x="182.6" y="995" width="11.2" height="11.2" fill="#000"/>
<path d="M269.4 1003.9V1025.3M265.4 1003.9h8M265.4 1025.3h8" stroke="#000" stroke-width="1.4"/>
<rect x="263.8" y="1009.8" width="11.2" height="11.2" fill="#000"/>
<path d="M350.8 1031.8V1053.2M346.8 1031.8h8M346.8 1053.2h8" stroke="#000" stroke-width="1.4"/>
<rect x="345.2" y="1037.7" width="11.2" height="11.2" fill="#000"/>
<circle cx="106.8" cy="1145.8" r="5" fill="#000"/>
<circle cx="188.2" cy="1147.8" r="5" fill="#000"/>
<circle cx="269.4" cy="1148.8" r="5" fill="#000"/>
<circle cx="350.8" cy="1149.6" r="5" fill="#000"/>
<path d="M106.8 1149.7L112.4 1159.3H101.2Z" fill="#000"/>
<path d="M188.2 1147.3L193.8 1156.9H182.6Z" fill="#000"/>
<path d="M269.4 1147.5L275 1157.1H263.8Z" fill="#000"/>
<path d="M350.8 1147.7L356.4 1157.3H345.2Z" fill="#000"/>
<rect x="369.9" y="980.7" width="84.5" height="56.5" fill="none" stroke="#555" stroke-width="1"/>
<path d="M374.5 991.4H399" stroke="#000" stroke-width="1.8"/>
<circle cx="387" cy="991.4" r="4.4" fill="#000"/>
<text x="402.5" y="994.6" font-size="11.3" text-anchor="start" stroke="#000" stroke-width="0.25">pTVG4</text>
<path d="M374.5 1010.5H399" stroke="#000" stroke-width="1.8"/>
<rect x="381.6" y="1005.2" width="10.6" height="10.6" fill="#000"/>
<text x="402.5" y="1013.7" font-size="11.3" text-anchor="start" stroke="#000" stroke-width="0.25">pTVG-HP</text>
<path d="M374.5 1028.9H399" stroke="#000" stroke-width="1.8"/>
<path d="M387 1023.9L392.3 1032.9H381.7Z" fill="#000"/>
<text x="402.5" y="1032.1" font-size="11.3" text-anchor="start" stroke="#000" stroke-width="0.25">pTVG-RP</text>
</svg>
</body></html>
